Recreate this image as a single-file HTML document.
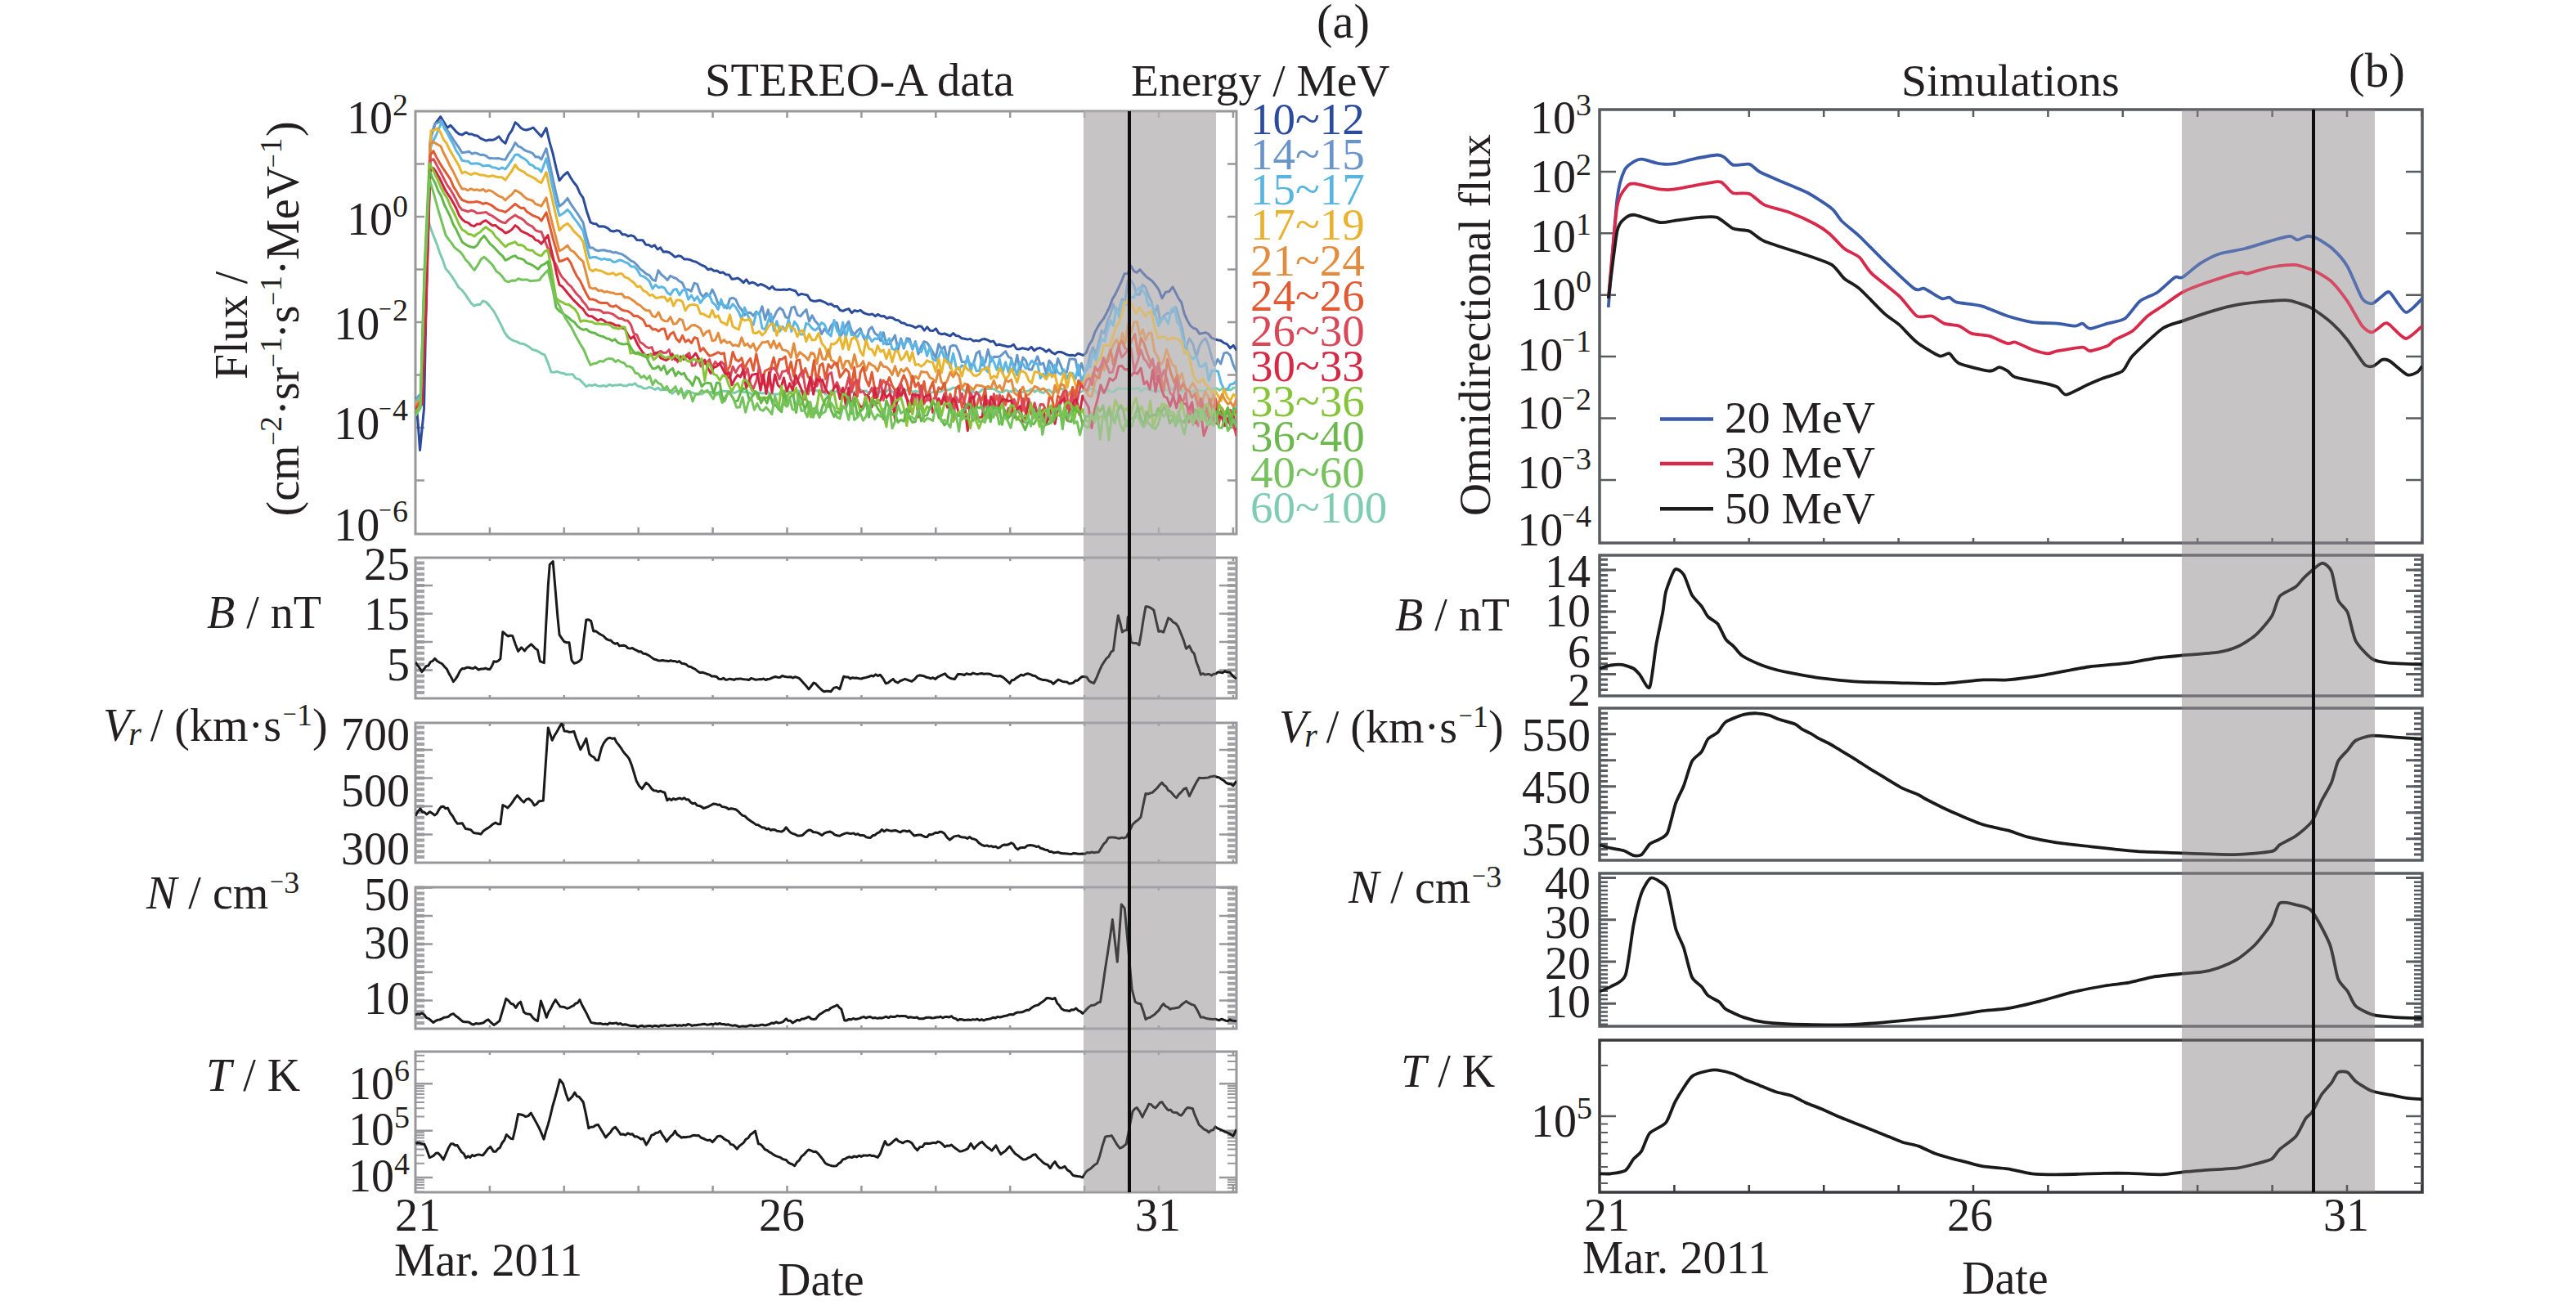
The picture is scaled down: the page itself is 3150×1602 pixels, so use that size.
<!DOCTYPE html><html><head><meta charset="utf-8"><style>html,body{margin:0;padding:0;background:#fff;overflow:hidden}svg{display:block}</style></head><body>
<svg width="3150" height="1602" viewBox="0 0 3150 1602">
<rect x="0" y="0" width="3150" height="1602" fill="#fff"/>
<rect x="1325" y="136" width="162" height="1322" fill="#c7c5c6"/>
<rect x="2668" y="134" width="236" height="1324" fill="#c7c5c6"/>
<rect x="508.0" y="136.0" width="1004.0" height="517.0" fill="none" stroke="#98989b" stroke-width="3.0"/>
<path d="M598.9 136.0V144.0M598.9 653.0V645.0M689.8 136.0V144.0M689.8 653.0V645.0M780.7 136.0V144.0M780.7 653.0V645.0M871.6 136.0V144.0M871.6 653.0V645.0M962.5 136.0V144.0M962.5 653.0V645.0M1053.4 136.0V144.0M1053.4 653.0V645.0M1144.3 136.0V144.0M1144.3 653.0V645.0M1235.2 136.0V144.0M1235.2 653.0V645.0M1326.1 136.0V144.0M1326.1 653.0V645.0M1417.0 136.0V144.0M1417.0 653.0V645.0M1507.9 136.0V144.0M1507.9 653.0V645.0" stroke="#98989b" stroke-width="2.5" fill="none"/>
<rect x="508.0" y="682.0" width="1004.0" height="172.0" fill="none" stroke="#98989b" stroke-width="3.0"/>
<path d="M598.9 682.0V686.0M598.9 854.0V850.0M689.8 682.0V686.0M689.8 854.0V850.0M780.7 682.0V686.0M780.7 854.0V850.0M871.6 682.0V686.0M871.6 854.0V850.0M962.5 682.0V686.0M962.5 854.0V850.0M1053.4 682.0V686.0M1053.4 854.0V850.0M1144.3 682.0V686.0M1144.3 854.0V850.0M1235.2 682.0V686.0M1235.2 854.0V850.0M1326.1 682.0V686.0M1326.1 854.0V850.0M1417.0 682.0V686.0M1417.0 854.0V850.0M1507.9 682.0V686.0M1507.9 854.0V850.0" stroke="#98989b" stroke-width="2.5" fill="none"/>
<rect x="508.0" y="884.0" width="1004.0" height="171.0" fill="none" stroke="#98989b" stroke-width="3.0"/>
<path d="M598.9 884.0V888.0M598.9 1055.0V1051.0M689.8 884.0V888.0M689.8 1055.0V1051.0M780.7 884.0V888.0M780.7 1055.0V1051.0M871.6 884.0V888.0M871.6 1055.0V1051.0M962.5 884.0V888.0M962.5 1055.0V1051.0M1053.4 884.0V888.0M1053.4 1055.0V1051.0M1144.3 884.0V888.0M1144.3 1055.0V1051.0M1235.2 884.0V888.0M1235.2 1055.0V1051.0M1326.1 884.0V888.0M1326.1 1055.0V1051.0M1417.0 884.0V888.0M1417.0 1055.0V1051.0M1507.9 884.0V888.0M1507.9 1055.0V1051.0" stroke="#98989b" stroke-width="2.5" fill="none"/>
<rect x="508.0" y="1085.0" width="1004.0" height="173.0" fill="none" stroke="#98989b" stroke-width="3.0"/>
<path d="M598.9 1085.0V1089.0M598.9 1258.0V1254.0M689.8 1085.0V1089.0M689.8 1258.0V1254.0M780.7 1085.0V1089.0M780.7 1258.0V1254.0M871.6 1085.0V1089.0M871.6 1258.0V1254.0M962.5 1085.0V1089.0M962.5 1258.0V1254.0M1053.4 1085.0V1089.0M1053.4 1258.0V1254.0M1144.3 1085.0V1089.0M1144.3 1258.0V1254.0M1235.2 1085.0V1089.0M1235.2 1258.0V1254.0M1326.1 1085.0V1089.0M1326.1 1258.0V1254.0M1417.0 1085.0V1089.0M1417.0 1258.0V1254.0M1507.9 1085.0V1089.0M1507.9 1258.0V1254.0" stroke="#98989b" stroke-width="2.5" fill="none"/>
<rect x="508.0" y="1286.0" width="1004.0" height="172.0" fill="none" stroke="#98989b" stroke-width="3.0"/>
<path d="M598.9 1286.0V1290.0M598.9 1458.0V1450.0M689.8 1286.0V1290.0M689.8 1458.0V1450.0M780.7 1286.0V1290.0M780.7 1458.0V1450.0M871.6 1286.0V1290.0M871.6 1458.0V1450.0M962.5 1286.0V1290.0M962.5 1458.0V1450.0M1053.4 1286.0V1290.0M1053.4 1458.0V1450.0M1144.3 1286.0V1290.0M1144.3 1458.0V1450.0M1235.2 1286.0V1290.0M1235.2 1458.0V1450.0M1326.1 1286.0V1290.0M1326.1 1458.0V1450.0M1417.0 1286.0V1290.0M1417.0 1458.0V1450.0M1507.9 1286.0V1290.0M1507.9 1458.0V1450.0" stroke="#98989b" stroke-width="2.5" fill="none"/>
<path d="M508.0 200.5H519.0M1512.0 200.5H1501.0M508.0 265.0H519.0M1512.0 265.0H1501.0M508.0 329.5H519.0M1512.0 329.5H1501.0M508.0 394.0H519.0M1512.0 394.0H1501.0M508.0 458.5H519.0M1512.0 458.5H1501.0M508.0 523.0H519.0M1512.0 523.0H1501.0M508.0 587.5H519.0M1512.0 587.5H1501.0" stroke="#98989b" stroke-width="2.5" fill="none"/>
<path d="M508.0 847.1H519.0M1512.0 847.1H1501.0M508.0 840.2H519.0M1512.0 840.2H1501.0M508.0 833.3H519.0M1512.0 833.3H1501.0M508.0 826.4H519.0M1512.0 826.4H1501.0M508.0 819.5H519.0M1512.0 819.5H1501.0M508.0 812.6H519.0M1512.0 812.6H1501.0M508.0 805.7H519.0M1512.0 805.7H1501.0M508.0 798.8H519.0M1512.0 798.8H1501.0M508.0 791.9H519.0M1512.0 791.9H1501.0M508.0 785.0H519.0M1512.0 785.0H1501.0M508.0 778.1H519.0M1512.0 778.1H1501.0M508.0 771.2H519.0M1512.0 771.2H1501.0M508.0 764.3H519.0M1512.0 764.3H1501.0M508.0 757.4H519.0M1512.0 757.4H1501.0M508.0 750.5H519.0M1512.0 750.5H1501.0M508.0 743.6H519.0M1512.0 743.6H1501.0M508.0 736.7H519.0M1512.0 736.7H1501.0M508.0 729.8H519.0M1512.0 729.8H1501.0M508.0 722.9H519.0M1512.0 722.9H1501.0M508.0 716.0H519.0M1512.0 716.0H1501.0M508.0 709.1H519.0M1512.0 709.1H1501.0M508.0 702.2H519.0M1512.0 702.2H1501.0M508.0 695.3H519.0M1512.0 695.3H1501.0M508.0 688.4H519.0M1512.0 688.4H1501.0" stroke="#a3a3a6" stroke-width="4.0" fill="none"/>
<path d="M508.0 819.5H529.0M1512.0 819.5H1491.0M508.0 785.0H529.0M1512.0 785.0H1491.0M508.0 750.5H529.0M1512.0 750.5H1491.0M508.0 716.0H529.0M1512.0 716.0H1491.0" stroke="#98989b" stroke-width="2.5" fill="none"/>
<path d="M508.0 1048.1H519.0M1512.0 1048.1H1501.0M508.0 1041.2H519.0M1512.0 1041.2H1501.0M508.0 1034.3H519.0M1512.0 1034.3H1501.0M508.0 1027.4H519.0M1512.0 1027.4H1501.0M508.0 1020.5H519.0M1512.0 1020.5H1501.0M508.0 1013.6H519.0M1512.0 1013.6H1501.0M508.0 1006.7H519.0M1512.0 1006.7H1501.0M508.0 999.8H519.0M1512.0 999.8H1501.0M508.0 992.9H519.0M1512.0 992.9H1501.0M508.0 986.0H519.0M1512.0 986.0H1501.0M508.0 979.1H519.0M1512.0 979.1H1501.0M508.0 972.2H519.0M1512.0 972.2H1501.0M508.0 965.3H519.0M1512.0 965.3H1501.0M508.0 958.4H519.0M1512.0 958.4H1501.0M508.0 951.5H519.0M1512.0 951.5H1501.0M508.0 944.6H519.0M1512.0 944.6H1501.0M508.0 937.7H519.0M1512.0 937.7H1501.0M508.0 930.8H519.0M1512.0 930.8H1501.0M508.0 923.9H519.0M1512.0 923.9H1501.0M508.0 917.0H519.0M1512.0 917.0H1501.0M508.0 910.1H519.0M1512.0 910.1H1501.0M508.0 903.2H519.0M1512.0 903.2H1501.0M508.0 896.3H519.0M1512.0 896.3H1501.0M508.0 889.4H519.0M1512.0 889.4H1501.0" stroke="#a3a3a6" stroke-width="4.0" fill="none"/>
<path d="M508.0 1020.5H529.0M1512.0 1020.5H1491.0M508.0 986.0H529.0M1512.0 986.0H1491.0M508.0 951.5H529.0M1512.0 951.5H1491.0M508.0 917.0H529.0M1512.0 917.0H1491.0" stroke="#98989b" stroke-width="2.5" fill="none"/>
<path d="M508.0 1251.1H519.0M1512.0 1251.1H1501.0M508.0 1244.2H519.0M1512.0 1244.2H1501.0M508.0 1237.3H519.0M1512.0 1237.3H1501.0M508.0 1230.4H519.0M1512.0 1230.4H1501.0M508.0 1223.5H519.0M1512.0 1223.5H1501.0M508.0 1216.6H519.0M1512.0 1216.6H1501.0M508.0 1209.7H519.0M1512.0 1209.7H1501.0M508.0 1202.8H519.0M1512.0 1202.8H1501.0M508.0 1195.9H519.0M1512.0 1195.9H1501.0M508.0 1189.0H519.0M1512.0 1189.0H1501.0M508.0 1182.1H519.0M1512.0 1182.1H1501.0M508.0 1175.2H519.0M1512.0 1175.2H1501.0M508.0 1168.3H519.0M1512.0 1168.3H1501.0M508.0 1161.4H519.0M1512.0 1161.4H1501.0M508.0 1154.5H519.0M1512.0 1154.5H1501.0M508.0 1147.6H519.0M1512.0 1147.6H1501.0M508.0 1140.7H519.0M1512.0 1140.7H1501.0M508.0 1133.8H519.0M1512.0 1133.8H1501.0M508.0 1126.9H519.0M1512.0 1126.9H1501.0M508.0 1120.0H519.0M1512.0 1120.0H1501.0M508.0 1113.1H519.0M1512.0 1113.1H1501.0M508.0 1106.2H519.0M1512.0 1106.2H1501.0M508.0 1099.3H519.0M1512.0 1099.3H1501.0M508.0 1092.4H519.0M1512.0 1092.4H1501.0M508.0 1085.5H519.0M1512.0 1085.5H1501.0" stroke="#a3a3a6" stroke-width="4.0" fill="none"/>
<path d="M508.0 1223.5H529.0M1512.0 1223.5H1491.0M508.0 1189.0H529.0M1512.0 1189.0H1491.0M508.0 1154.5H529.0M1512.0 1154.5H1491.0M508.0 1120.0H529.0M1512.0 1120.0H1491.0M508.0 1085.5H529.0M1512.0 1085.5H1491.0" stroke="#98989b" stroke-width="2.5" fill="none"/>
<path d="M508.0 1457.4H519.0M1512.0 1457.4H1501.0M508.0 1452.8H519.0M1512.0 1452.8H1501.0M508.0 1449.0H519.0M1512.0 1449.0H1501.0M508.0 1445.7H519.0M1512.0 1445.7H1501.0M508.0 1442.7H519.0M1512.0 1442.7H1501.0M508.0 1422.8H519.0M1512.0 1422.8H1501.0M508.0 1412.7H519.0M1512.0 1412.7H1501.0M508.0 1405.5H519.0M1512.0 1405.5H1501.0M508.0 1400.0H519.0M1512.0 1400.0H1501.0M508.0 1395.4H519.0M1512.0 1395.4H1501.0M508.0 1391.6H519.0M1512.0 1391.6H1501.0M508.0 1388.3H519.0M1512.0 1388.3H1501.0M508.0 1385.3H519.0M1512.0 1385.3H1501.0M508.0 1365.4H519.0M1512.0 1365.4H1501.0M508.0 1355.3H519.0M1512.0 1355.3H1501.0M508.0 1348.1H519.0M1512.0 1348.1H1501.0M508.0 1342.6H519.0M1512.0 1342.6H1501.0M508.0 1338.0H519.0M1512.0 1338.0H1501.0M508.0 1334.2H519.0M1512.0 1334.2H1501.0M508.0 1330.9H519.0M1512.0 1330.9H1501.0M508.0 1327.9H519.0M1512.0 1327.9H1501.0M508.0 1308.0H519.0M1512.0 1308.0H1501.0M508.0 1297.9H519.0M1512.0 1297.9H1501.0M508.0 1290.7H519.0M1512.0 1290.7H1501.0" stroke="#98989b" stroke-width="2.0" fill="none"/>
<path d="M508.0 1440.1H529.0M1512.0 1440.1H1491.0M508.0 1382.7H529.0M1512.0 1382.7H1491.0M508.0 1325.3H529.0M1512.0 1325.3H1491.0" stroke="#98989b" stroke-width="2.5" fill="none"/>
<rect x="1956.0" y="134.0" width="1006.0" height="530.0" fill="none" stroke="#5a5b60" stroke-width="3.5"/>
<path d="M2047.4 134.0V143.0M2047.4 664.0V658.0M2138.8 134.0V143.0M2138.8 664.0V658.0M2230.2 134.0V143.0M2230.2 664.0V658.0M2321.6 134.0V143.0M2321.6 664.0V658.0M2413.0 134.0V143.0M2413.0 664.0V658.0M2504.4 134.0V143.0M2504.4 664.0V658.0M2595.8 134.0V143.0M2595.8 664.0V658.0M2687.2 134.0V143.0M2687.2 664.0V658.0M2778.6 134.0V143.0M2778.6 664.0V658.0M2870.0 134.0V143.0M2870.0 664.0V658.0M2961.4 134.0V143.0M2961.4 664.0V658.0" stroke="#5a5b60" stroke-width="2.5" fill="none"/>
<rect x="1956.0" y="679.0" width="1006.0" height="172.0" fill="none" stroke="#5a5b60" stroke-width="3.5"/>
<rect x="1956.0" y="866.0" width="1006.0" height="186.0" fill="none" stroke="#5a5b60" stroke-width="3.5"/>
<rect x="1956.0" y="1068.0" width="1006.0" height="187.0" fill="none" stroke="#5a5b60" stroke-width="3.5"/>
<rect x="1956.0" y="1272.0" width="1006.0" height="186.0" fill="none" stroke="#3a3a3c" stroke-width="3.5"/>
<path d="M2047.4 1458.0V1449.0M2138.8 1458.0V1449.0M2230.2 1458.0V1449.0M2321.6 1458.0V1449.0M2413.0 1458.0V1449.0M2504.4 1458.0V1449.0M2595.8 1458.0V1449.0M2687.2 1458.0V1449.0M2778.6 1458.0V1449.0M2870.0 1458.0V1449.0M2961.4 1458.0V1449.0" stroke="#3a3a3c" stroke-width="2.5" fill="none"/>
<path d="M1956.0 209.9H1976.0M2962.0 209.9H2942.0M1956.0 285.3H1976.0M2962.0 285.3H2942.0M1956.0 360.7H1976.0M2962.0 360.7H2942.0M1956.0 436.1H1976.0M2962.0 436.1H2942.0M1956.0 511.5H1976.0M2962.0 511.5H2942.0M1956.0 586.9H1976.0M2962.0 586.9H2942.0" stroke="#5a5b60" stroke-width="2.5" fill="none"/>
<path d="M1956.0 843.6H1966.0M2962.0 843.6H2952.0M1956.0 837.2H1966.0M2962.0 837.2H2952.0M1956.0 830.9H1966.0M2962.0 830.9H2952.0M1956.0 824.5H1966.0M2962.0 824.5H2952.0M1956.0 818.1H1966.0M2962.0 818.1H2952.0M1956.0 811.8H1966.0M2962.0 811.8H2952.0M1956.0 805.4H1966.0M2962.0 805.4H2952.0M1956.0 799.0H1966.0M2962.0 799.0H2952.0M1956.0 792.6H1966.0M2962.0 792.6H2952.0M1956.0 786.2H1966.0M2962.0 786.2H2952.0M1956.0 779.9H1966.0M2962.0 779.9H2952.0M1956.0 773.5H1966.0M2962.0 773.5H2952.0M1956.0 767.1H1966.0M2962.0 767.1H2952.0M1956.0 760.8H1966.0M2962.0 760.8H2952.0M1956.0 754.4H1966.0M2962.0 754.4H2952.0M1956.0 748.0H1966.0M2962.0 748.0H2952.0M1956.0 741.6H1966.0M2962.0 741.6H2952.0M1956.0 735.2H1966.0M2962.0 735.2H2952.0M1956.0 728.9H1966.0M2962.0 728.9H2952.0M1956.0 722.5H1966.0M2962.0 722.5H2952.0M1956.0 716.1H1966.0M2962.0 716.1H2952.0M1956.0 709.8H1966.0M2962.0 709.8H2952.0M1956.0 703.4H1966.0M2962.0 703.4H2952.0M1956.0 697.0H1966.0M2962.0 697.0H2952.0M1956.0 690.6H1966.0M2962.0 690.6H2952.0M1956.0 684.2H1966.0M2962.0 684.2H2952.0" stroke="#5a5b60" stroke-width="3.0" fill="none"/>
<path d="M1956.0 697.0H1976.0M2962.0 697.0H2942.0M1956.0 722.5H1976.0M2962.0 722.5H2942.0M1956.0 748.0H1976.0M2962.0 748.0H2942.0M1956.0 773.5H1976.0M2962.0 773.5H2942.0M1956.0 799.0H1976.0M2962.0 799.0H2942.0M1956.0 824.5H1976.0M2962.0 824.5H2942.0" stroke="#5a5b60" stroke-width="3.0" fill="none"/>
<path d="M1956.0 872.2H1966.0M2962.0 872.2H2952.0M1956.0 878.6H1966.0M2962.0 878.6H2952.0M1956.0 885.0H1966.0M2962.0 885.0H2952.0M1956.0 891.4H1966.0M2962.0 891.4H2952.0M1956.0 897.8H1966.0M2962.0 897.8H2952.0M1956.0 904.2H1966.0M2962.0 904.2H2952.0M1956.0 910.6H1966.0M2962.0 910.6H2952.0M1956.0 917.0H1966.0M2962.0 917.0H2952.0M1956.0 923.4H1966.0M2962.0 923.4H2952.0M1956.0 929.8H1966.0M2962.0 929.8H2952.0M1956.0 936.2H1966.0M2962.0 936.2H2952.0M1956.0 942.6H1966.0M2962.0 942.6H2952.0M1956.0 949.0H1966.0M2962.0 949.0H2952.0M1956.0 955.4H1966.0M2962.0 955.4H2952.0M1956.0 961.8H1966.0M2962.0 961.8H2952.0M1956.0 968.2H1966.0M2962.0 968.2H2952.0M1956.0 974.6H1966.0M2962.0 974.6H2952.0M1956.0 981.0H1966.0M2962.0 981.0H2952.0M1956.0 987.4H1966.0M2962.0 987.4H2952.0M1956.0 993.8H1966.0M2962.0 993.8H2952.0M1956.0 1000.2H1966.0M2962.0 1000.2H2952.0M1956.0 1006.6H1966.0M2962.0 1006.6H2952.0M1956.0 1013.0H1966.0M2962.0 1013.0H2952.0M1956.0 1019.4H1966.0M2962.0 1019.4H2952.0M1956.0 1025.8H1966.0M2962.0 1025.8H2952.0M1956.0 1032.2H1966.0M2962.0 1032.2H2952.0M1956.0 1038.6H1966.0M2962.0 1038.6H2952.0M1956.0 1045.0H1966.0M2962.0 1045.0H2952.0" stroke="#5a5b60" stroke-width="3.0" fill="none"/>
<path d="M1956.0 897.8H1976.0M2962.0 897.8H2942.0M1956.0 929.8H1976.0M2962.0 929.8H2942.0M1956.0 961.8H1976.0M2962.0 961.8H2942.0M1956.0 993.8H1976.0M2962.0 993.8H2942.0M1956.0 1025.8H1976.0M2962.0 1025.8H2942.0" stroke="#5a5b60" stroke-width="3.0" fill="none"/>
<path d="M1956.0 1073.6H1966.0M2962.0 1073.6H2952.0M1956.0 1078.7H1966.0M2962.0 1078.7H2952.0M1956.0 1083.8H1966.0M2962.0 1083.8H2952.0M1956.0 1089.0H1966.0M2962.0 1089.0H2952.0M1956.0 1094.1H1966.0M2962.0 1094.1H2952.0M1956.0 1099.2H1966.0M2962.0 1099.2H2952.0M1956.0 1104.3H1966.0M2962.0 1104.3H2952.0M1956.0 1109.4H1966.0M2962.0 1109.4H2952.0M1956.0 1114.6H1966.0M2962.0 1114.6H2952.0M1956.0 1119.7H1966.0M2962.0 1119.7H2952.0M1956.0 1124.8H1966.0M2962.0 1124.8H2952.0M1956.0 1129.9H1966.0M2962.0 1129.9H2952.0M1956.0 1135.0H1966.0M2962.0 1135.0H2952.0M1956.0 1140.2H1966.0M2962.0 1140.2H2952.0M1956.0 1145.3H1966.0M2962.0 1145.3H2952.0M1956.0 1150.4H1966.0M2962.0 1150.4H2952.0M1956.0 1155.5H1966.0M2962.0 1155.5H2952.0M1956.0 1160.6H1966.0M2962.0 1160.6H2952.0M1956.0 1165.8H1966.0M2962.0 1165.8H2952.0M1956.0 1170.9H1966.0M2962.0 1170.9H2952.0M1956.0 1176.0H1966.0M2962.0 1176.0H2952.0M1956.0 1181.1H1966.0M2962.0 1181.1H2952.0M1956.0 1186.2H1966.0M2962.0 1186.2H2952.0M1956.0 1191.4H1966.0M2962.0 1191.4H2952.0M1956.0 1196.5H1966.0M2962.0 1196.5H2952.0M1956.0 1201.6H1966.0M2962.0 1201.6H2952.0M1956.0 1206.7H1966.0M2962.0 1206.7H2952.0M1956.0 1211.8H1966.0M2962.0 1211.8H2952.0M1956.0 1217.0H1966.0M2962.0 1217.0H2952.0M1956.0 1222.1H1966.0M2962.0 1222.1H2952.0M1956.0 1227.2H1966.0M2962.0 1227.2H2952.0M1956.0 1232.3H1966.0M2962.0 1232.3H2952.0M1956.0 1237.4H1966.0M2962.0 1237.4H2952.0M1956.0 1242.6H1966.0M2962.0 1242.6H2952.0M1956.0 1247.7H1966.0M2962.0 1247.7H2952.0M1956.0 1252.8H1966.0M2962.0 1252.8H2952.0" stroke="#5a5b60" stroke-width="2.5" fill="none"/>
<path d="M1956.0 1073.6H1976.0M2962.0 1073.6H2942.0M1956.0 1124.8H1976.0M2962.0 1124.8H2942.0M1956.0 1176.0H1976.0M2962.0 1176.0H2942.0M1956.0 1227.2H1976.0M2962.0 1227.2H2942.0" stroke="#5a5b60" stroke-width="3.0" fill="none"/>
<path d="M1956.0 1447.0H1966.0M2962.0 1447.0H2952.0M1956.0 1427.0H1966.0M2962.0 1427.0H2952.0M1956.0 1410.7H1966.0M2962.0 1410.7H2952.0M1956.0 1396.9H1966.0M2962.0 1396.9H2952.0M1956.0 1385.0H1966.0M2962.0 1385.0H2952.0M1956.0 1374.4H1966.0M2962.0 1374.4H2952.0M1956.0 1303.0H1966.0M2962.0 1303.0H2952.0" stroke="#5a5b60" stroke-width="2.0" fill="none"/>
<path d="M1956.0 1365.0H1976.0M2962.0 1365.0H2942.0" stroke="#5a5b60" stroke-width="2.5" fill="none"/>
<defs>
<clipPath id="cl0"><rect x="508" y="136" width="1004" height="517"/></clipPath>
<clipPath id="cl1"><rect x="508" y="682" width="1004" height="172"/></clipPath>
<clipPath id="cl2"><rect x="508" y="884" width="1004" height="171"/></clipPath>
<clipPath id="cl3"><rect x="508" y="1085" width="1004" height="173"/></clipPath>
<clipPath id="cl4"><rect x="508" y="1286" width="1004" height="172"/></clipPath>
<clipPath id="cr0"><rect x="1956" y="134" width="1006" height="530"/></clipPath>
<clipPath id="cr1"><rect x="1956" y="679" width="1006" height="172"/></clipPath>
<clipPath id="cr2"><rect x="1956" y="866" width="1006" height="186"/></clipPath>
<clipPath id="cr3"><rect x="1956" y="1068" width="1006" height="187"/></clipPath>
<clipPath id="cr4"><rect x="1956" y="1272" width="1006" height="186"/></clipPath>
</defs>
<g clip-path="url(#cl0)" fill="none" stroke-width="3" stroke-linejoin="round">
<path d="M508.0 499.5 L514.0 489.0 L519.0 360.5 L523.6 269.7 L527.2 280.8 L530.7 289.9 L534.3 298.7 L537.9 309.7 L541.4 317.9 L545.0 328.8 L549.0 333.1 L553.0 338.6 L557.0 345.0 L561.0 351.6 L565.0 354.9 L568.8 359.7 L572.5 365.4 L576.2 370.8 L580.0 374.2 L583.5 372.2 L587.0 372.4 L590.5 368.1 L594.0 369.1 L599.0 374.4 L604.0 380.9 L608.2 388.6 L612.5 396.9 L616.8 406.2 L621.0 412.0 L624.8 415.0 L628.5 416.9 L632.2 417.9 L636.0 420.1 L639.8 420.4 L643.5 422.2 L647.2 424.4 L651.0 427.5 L654.8 428.5 L658.5 429.9 L662.2 432.5 L666.0 433.9 L670.0 443.4 L674.0 454.9 L677.7 455.2 L681.4 454.4 L685.1 455.9 L688.9 456.4 L692.6 458.0 L696.3 458.1 L700.0 457.4 L704.2 462.9 L708.5 463.9 L712.8 468.3 L717.0 472.8 L720.5 470.8 L724.0 471.7 L727.5 470.2 L731.0 472.0 L734.5 472.2 L738.0 471.5 L741.5 472.6 L745.0 470.2 L748.5 471.7 L752.0 471.1 L755.5 471.0 L759.0 470.3 L762.5 471.8 L766.0 472.1 L769.5 470.0 L773.0 470.7 L776.5 468.8 L780.0 472.3 L783.5 472.8 L787.0 475.1 L790.5 475.0 L794.0 473.3 L797.5 474.5 L801.0 476.5 L804.5 474.2 L808.0 477.0 L811.5 476.3 L815.0 476.8 L818.5 477.2 L822.0 481.3 L825.6 478.2 L829.3 478.8 L833.0 479.5 L836.6 481.8 L840.2 477.9 L843.9 479.7 L847.5 480.3 L851.2 482.0 L854.9 481.6 L858.5 481.9 L862.1 478.8 L865.8 479.6 L869.5 479.3 L873.1 482.0 L876.8 482.5 L880.4 478.1 L884.0 478.2 L887.7 478.5 L891.4 478.5 L895.0 479.9 L898.6 480.5 L902.1 478.7 L905.7 477.2 L909.3 479.5 L912.9 479.3 L916.4 480.4 L920.0 482.6 L923.6 481.1 L927.1 480.1 L930.7 480.7 L934.3 481.0 L937.9 477.3 L941.4 482.4 L945.0 481.7 L948.6 482.2 L952.1 481.8 L955.7 479.4 L959.3 479.4 L962.9 477.6 L966.4 480.8 L970.0 477.4 L973.6 477.4 L977.1 478.3 L980.7 478.0 L984.3 479.0 L987.9 477.3 L991.4 477.0 L995.0 477.9 L998.6 477.6 L1002.1 479.2 L1005.7 477.2 L1009.3 482.2 L1012.9 480.7 L1016.4 477.9 L1020.0 478.5 L1023.5 479.0 L1027.1 479.0 L1030.7 477.5 L1034.2 481.8 L1037.8 482.6 L1041.3 479.3 L1044.8 479.4 L1048.4 476.9 L1052.0 476.9 L1055.5 478.3 L1059.0 477.8 L1062.6 481.1 L1066.2 477.0 L1069.7 476.1 L1073.2 481.6 L1076.8 479.0 L1080.3 476.6 L1083.9 478.9 L1087.5 475.7 L1091.0 478.7 L1094.5 481.3 L1098.1 480.5 L1101.7 479.5 L1105.2 476.8 L1108.8 477.3 L1112.3 476.1 L1115.8 479.6 L1119.4 478.1 L1123.0 479.5 L1126.5 476.7 L1130.0 476.0 L1133.6 479.5 L1137.2 480.4 L1140.7 479.6 L1144.2 479.2 L1147.8 479.2 L1151.3 478.7 L1154.9 475.5 L1158.5 477.2 L1162.0 476.1 L1165.6 474.2 L1169.1 474.2 L1172.7 475.7 L1176.3 475.6 L1179.8 478.3 L1183.4 479.9 L1187.0 476.8 L1190.5 479.8 L1194.1 480.1 L1197.7 479.9 L1201.2 476.4 L1204.8 475.6 L1208.3 475.6 L1211.9 475.5 L1215.5 475.6 L1219.0 478.1 L1222.6 479.8 L1226.2 479.4 L1229.7 477.3 L1233.3 478.4 L1236.9 479.3 L1240.4 475.0 L1244.0 478.5 L1247.6 480.0 L1251.1 479.2 L1254.7 479.1 L1258.3 477.5 L1261.8 475.7 L1265.4 479.4 L1269.0 476.6 L1272.5 479.5 L1276.1 480.5 L1279.7 477.1 L1283.2 477.1 L1286.8 480.4 L1290.3 479.1 L1293.9 475.8 L1297.5 475.6 L1301.0 475.8 L1304.6 480.3 L1308.2 479.7 L1311.7 475.8 L1315.3 479.9 L1318.9 480.8 L1322.4 478.9 L1326.0 477.1 L1329.7 478.2 L1333.3 475.6 L1337.0 474.8 L1340.6 480.4 L1344.2 478.4 L1347.9 477.6 L1351.5 479.9 L1355.2 476.8 L1358.8 479.3 L1362.5 479.0 L1366.2 475.2 L1369.8 475.3 L1373.5 475.5 L1377.1 475.0 L1380.8 477.0 L1384.4 475.0 L1388.0 475.8 L1391.7 474.0 L1395.3 478.6 L1399.0 475.1 L1402.6 475.9 L1406.1 476.7 L1409.7 478.8 L1413.2 476.0 L1416.8 479.1 L1420.3 476.7 L1423.9 477.0 L1427.4 477.0 L1431.0 474.1 L1434.6 476.8 L1438.1 475.3 L1441.7 474.4 L1445.2 479.2 L1448.8 475.6 L1452.3 477.5 L1455.9 479.1 L1459.4 478.2 L1463.0 477.0 L1466.5 477.8 L1470.0 477.8 L1473.5 478.8 L1477.0 474.5 L1480.5 476.9 L1484.0 474.8 L1487.5 474.7 L1491.0 477.3 L1494.5 475.5 L1498.0 475.5 L1501.5 476.4 L1505.0 477.0 L1508.5 473.9 L1512.0 474.7" stroke="#7ccbb0"/>
<path d="M508.0 486.0 L511.0 515.0 L513.5 550.6 L518.5 499.9 L522.0 330.1 L527.0 166.9 L532.0 151.3 L538.7 142.6 L542.9 149.6 L547.0 156.3 L551.0 153.3 L554.5 157.2 L558.0 161.3 L561.5 164.0 L565.0 164.9 L570.0 161.9 L573.5 164.0 L577.0 164.0 L580.5 165.6 L584.0 166.2 L587.5 169.1 L591.0 170.6 L594.5 172.1 L598.0 171.0 L602.0 171.3 L606.0 169.8 L610.0 166.9 L614.0 172.1 L618.0 175.4 L622.0 165.2 L626.0 159.4 L630.0 149.7 L633.5 152.5 L637.0 156.5 L640.5 158.5 L644.0 159.0 L648.0 157.8 L652.0 156.0 L657.0 161.5 L662.0 167.1 L668.0 156.5 L672.0 173.7 L676.0 187.6 L680.0 205.2 L684.0 220.8 L689.0 214.6 L694.0 210.5 L697.8 217.4 L701.6 223.0 L705.4 227.7 L709.2 236.5 L713.0 241.9 L717.5 258.4 L722.0 271.8 L725.5 273.4 L729.1 273.8 L732.6 277.1 L736.2 276.7 L739.7 277.3 L743.3 279.2 L746.8 282.3 L750.4 283.0 L753.9 281.8 L757.5 282.4 L761.0 286.8 L764.6 286.8 L768.2 288.9 L771.8 287.8 L775.4 289.2 L778.9 293.5 L782.5 293.8 L786.1 293.8 L789.7 299.2 L793.3 299.4 L796.9 301.7 L800.5 299.9 L804.1 305.0 L807.6 302.9 L811.2 308.1 L814.8 307.7 L818.4 308.7 L822.0 311.3 L825.6 314.5 L829.3 312.8 L833.0 313.5 L836.6 316.9 L840.2 316.9 L843.9 317.7 L847.5 319.4 L851.2 320.3 L854.9 322.5 L858.5 324.5 L862.1 325.9 L865.8 329.8 L869.5 328.7 L873.1 331.3 L876.8 331.0 L880.4 333.4 L884.0 333.0 L887.7 335.7 L891.4 335.9 L895.0 341.3 L898.5 341.1 L902.0 339.9 L905.6 342.3 L909.1 345.7 L912.6 341.8 L916.1 346.7 L919.7 345.3 L923.2 346.4 L926.7 349.2 L930.2 347.5 L933.8 348.9 L937.3 350.8 L940.8 353.4 L944.3 350.4 L947.9 354.1 L951.4 354.2 L954.9 354.6 L958.4 354.0 L962.0 354.5 L965.5 353.5 L969.0 354.8 L972.6 355.7 L976.3 361.0 L979.9 359.4 L983.6 360.1 L987.2 360.9 L990.9 366.8 L994.5 368.2 L998.1 368.3 L1001.8 367.3 L1005.4 368.3 L1009.1 369.9 L1012.7 372.2 L1016.4 371.7 L1020.0 374.7 L1023.6 374.4 L1027.2 379.4 L1030.8 380.3 L1034.4 378.6 L1037.9 377.6 L1041.5 382.7 L1045.1 379.6 L1048.7 380.7 L1052.3 379.4 L1055.9 382.5 L1059.5 383.9 L1063.1 384.9 L1066.6 383.9 L1070.2 386.6 L1073.8 384.4 L1077.4 386.8 L1081.0 386.5 L1084.5 389.3 L1088.0 388.0 L1091.6 388.7 L1095.1 391.3 L1098.6 391.7 L1102.1 394.7 L1105.7 395.3 L1109.2 397.5 L1112.7 397.8 L1116.2 399.0 L1119.7 400.8 L1123.3 398.8 L1126.8 399.3 L1130.3 404.1 L1133.8 399.9 L1137.3 404.3 L1140.9 404.6 L1144.4 401.9 L1147.9 407.5 L1151.4 408.7 L1155.0 408.0 L1158.5 409.5 L1162.0 410.9 L1165.5 407.5 L1169.0 410.5 L1172.6 411.1 L1176.1 413.8 L1179.6 414.3 L1183.1 415.1 L1186.7 414.4 L1190.2 416.9 L1193.7 416.4 L1197.2 417.1 L1200.7 415.0 L1204.3 414.5 L1207.8 415.8 L1211.3 417.9 L1214.8 417.1 L1218.3 422.1 L1221.9 421.2 L1225.4 422.3 L1228.9 423.0 L1232.4 424.0 L1236.0 423.5 L1239.5 421.3 L1243.0 426.8 L1246.6 426.9 L1250.2 425.8 L1253.8 426.4 L1257.5 427.5 L1261.1 424.3 L1264.7 428.7 L1268.3 426.2 L1271.9 425.5 L1275.5 427.1 L1279.2 430.2 L1282.8 427.5 L1286.4 431.1 L1290.0 432.9 L1293.5 430.6 L1297.0 430.5 L1300.5 431.7 L1304.0 433.5 L1307.5 434.6 L1311.0 434.3 L1314.5 435.1 L1318.0 432.3 L1321.5 433.3 L1325.0 434.5 L1328.5 430.7 L1332.0 421.3 L1335.5 416.2 L1339.0 406.1 L1342.5 399.6 L1346.0 394.1 L1349.5 389.8 L1353.0 383.2 L1356.7 375.6 L1360.3 365.7 L1364.0 359.6 L1367.7 351.8 L1371.3 344.3 L1375.0 334.7 L1379.0 334.4 L1383.0 325.2 L1386.7 331.7 L1390.3 333.3 L1394.0 329.6 L1397.7 334.1 L1401.3 338.1 L1405.0 340.8 L1409.0 343.7 L1413.0 348.6 L1417.0 354.3 L1421.0 364.7 L1425.3 357.3 L1429.7 356.5 L1434.0 350.9 L1437.5 357.6 L1441.0 364.7 L1444.7 369.8 L1448.3 383.9 L1452.0 392.1 L1455.7 398.3 L1459.3 401.2 L1463.0 402.4 L1466.7 408.2 L1470.4 407.6 L1474.1 406.7 L1477.9 408.5 L1481.6 413.2 L1485.3 414.8 L1489.0 415.8 L1492.8 416.5 L1496.7 419.4 L1500.5 420.9 L1504.3 425.7 L1508.2 422.3 L1512.0 428.5" stroke="#2b4c9b"/>
<path d="M508.0 491.0 L512.0 483.9 L516.0 481.3 L521.0 330.6 L526.0 171.2 L532.0 151.4 L536.0 149.6 L540.0 147.7 L543.6 155.2 L547.1 159.7 L550.7 164.7 L554.3 170.6 L557.9 175.9 L561.4 180.9 L565.0 186.8 L570.0 186.0 L573.5 185.2 L577.0 188.1 L580.5 186.9 L584.0 187.8 L587.5 189.4 L591.0 189.3 L594.5 190.7 L598.0 193.4 L602.0 193.6 L606.0 193.7 L610.0 193.6 L614.0 194.8 L618.0 195.3 L622.0 188.1 L626.0 182.7 L630.0 174.6 L633.6 178.8 L637.1 180.1 L640.7 183.1 L644.2 184.9 L647.8 185.9 L651.3 187.3 L654.9 192.1 L658.4 191.8 L662.0 194.9 L668.0 181.5 L672.0 199.1 L676.0 218.2 L680.0 236.7 L684.0 252.3 L689.0 248.5 L694.0 242.4 L697.8 249.2 L701.6 254.7 L705.4 260.0 L709.2 266.0 L713.0 272.1 L717.0 289.2 L721.0 303.0 L724.6 302.9 L728.2 305.8 L731.8 306.8 L735.5 305.9 L739.1 305.8 L742.7 307.0 L746.3 307.3 L749.9 309.0 L753.5 308.6 L757.2 310.0 L760.8 310.9 L764.4 313.3 L768.0 316.0 L771.8 319.1 L775.5 320.7 L779.2 324.5 L783.0 329.1 L786.8 331.8 L790.5 335.2 L794.2 336.6 L798.0 342.1 L801.5 343.4 L805.0 330.6 L808.7 335.8 L812.3 338.6 L816.0 342.6 L819.7 337.3 L823.3 339.3 L827.0 340.5 L830.7 343.8 L834.3 345.9 L838.0 353.8 L841.7 354.1 L845.3 356.1 L849.0 346.2 L852.7 347.7 L856.3 358.8 L860.0 363.2 L863.7 358.5 L867.3 361.8 L871.0 354.1 L874.6 361.6 L878.2 371.7 L881.8 371.5 L885.4 373.4 L888.9 376.9 L892.5 365.5 L896.1 364.2 L899.7 366.3 L903.3 374.4 L906.9 378.8 L910.5 385.3 L914.1 382.4 L917.6 382.3 L921.2 386.1 L924.8 381.1 L928.4 384.5 L932.0 374.7 L935.6 391.0 L939.2 378.8 L942.8 394.2 L946.4 388.1 L950.0 380.4 L953.6 376.5 L957.2 379.2 L960.8 387.9 L964.4 389.2 L968.0 376.1 L971.6 375.2 L975.2 385.3 L978.8 386.7 L982.4 382.3 L986.0 378.6 L989.5 393.1 L993.0 385.8 L996.9 392.8 L1000.7 396.8 L1004.6 408.4 L1008.4 401.8 L1012.3 407.5 L1016.1 398.8 L1020.0 393.9 L1023.5 394.9 L1027.1 411.7 L1030.7 406.8 L1034.2 398.7 L1037.8 393.1 L1041.3 404.6 L1044.8 409.3 L1048.4 404.4 L1052.0 401.6 L1055.5 411.5 L1059.0 418.1 L1062.6 403.3 L1066.2 399.8 L1069.7 407.4 L1073.2 410.0 L1076.8 416.7 L1080.3 406.6 L1083.9 420.9 L1087.5 420.4 L1091.0 415.9 L1094.5 410.0 L1098.1 427.9 L1101.7 414.0 L1105.2 426.2 L1108.8 413.8 L1112.3 414.4 L1115.8 427.2 L1119.4 417.6 L1123.0 433.1 L1126.5 423.7 L1130.0 417.6 L1133.6 419.2 L1137.2 424.3 L1140.7 430.7 L1144.2 437.9 L1147.8 420.7 L1151.3 427.0 L1154.9 423.8 L1158.5 441.6 L1162.0 423.8 L1165.6 422.2 L1169.1 422.9 L1172.7 430.8 L1176.2 442.6 L1179.8 442.8 L1183.3 439.8 L1186.9 446.3 L1190.4 445.2 L1194.0 432.2 L1197.6 429.5 L1201.1 446.8 L1204.7 443.0 L1208.2 427.5 L1211.8 442.1 L1215.3 436.2 L1218.9 436.5 L1222.4 436.1 L1226.0 432.9 L1229.6 429.6 L1233.1 436.3 L1236.7 438.4 L1240.2 452.4 L1243.8 434.2 L1247.3 453.5 L1250.9 437.1 L1254.4 440.9 L1258.0 451.8 L1261.6 452.2 L1265.1 444.0 L1268.7 435.9 L1272.2 445.8 L1275.8 444.1 L1279.3 456.8 L1282.9 441.0 L1286.4 445.3 L1290.0 457.7 L1293.6 438.4 L1297.2 447.0 L1300.8 456.1 L1304.4 455.2 L1308.0 439.0 L1311.6 439.0 L1315.2 439.7 L1318.8 459.0 L1322.4 444.3 L1326.0 455.3 L1329.5 452.0 L1333.1 432.8 L1336.6 424.6 L1340.2 433.3 L1343.7 419.0 L1347.2 404.3 L1350.8 407.8 L1354.3 392.2 L1357.8 384.5 L1361.4 371.8 L1364.9 381.9 L1368.5 378.8 L1372.0 365.8 L1375.7 368.1 L1379.3 342.8 L1383.0 342.8 L1386.5 348.7 L1390.0 360.0 L1393.5 360.5 L1397.0 348.3 L1400.7 351.2 L1404.3 361.2 L1408.0 368.7 L1411.7 384.4 L1415.3 373.7 L1419.0 393.6 L1423.0 386.6 L1427.0 383.0 L1430.7 383.2 L1434.3 380.9 L1438.0 375.9 L1442.0 389.1 L1446.0 403.4 L1450.0 426.1 L1454.3 414.0 L1458.7 420.4 L1463.0 436.5 L1466.8 422.9 L1470.5 416.6 L1474.2 413.6 L1478.0 423.0 L1482.0 437.9 L1485.5 447.1 L1489.0 439.4 L1492.8 444.9 L1496.7 431.9 L1500.5 431.0 L1504.3 434.4 L1508.2 446.6 L1512.0 454.5" stroke="#6595c9"/>
<path d="M508.0 491.8 L512.0 486.2 L516.0 481.8 L521.0 330.4 L526.0 180.5 L529.5 173.2 L533.0 166.0 L536.5 158.0 L540.0 148.9 L543.6 157.7 L547.1 162.8 L550.7 170.3 L554.3 176.5 L557.9 184.3 L561.4 189.4 L565.0 196.2 L568.7 196.9 L572.3 197.3 L576.0 200.2 L579.7 199.9 L583.3 199.8 L587.0 200.7 L590.7 203.1 L594.3 202.4 L598.0 202.2 L602.0 204.7 L606.0 205.1 L610.0 206.9 L614.0 205.0 L618.0 206.9 L622.0 201.6 L626.0 195.4 L630.0 189.2 L633.6 189.0 L637.1 192.0 L640.7 193.9 L644.2 196.4 L647.8 201.1 L651.3 202.2 L654.9 205.6 L658.4 206.3 L662.0 210.1 L668.0 193.8 L672.0 211.0 L676.0 230.3 L680.0 248.6 L684.0 263.8 L689.0 260.8 L694.0 256.4 L697.8 260.6 L701.6 266.4 L705.4 271.1 L709.2 276.7 L713.0 282.3 L717.0 299.3 L721.0 315.5 L724.6 314.6 L728.2 314.5 L731.8 315.9 L735.5 317.4 L739.1 316.4 L742.7 317.6 L746.3 317.6 L749.9 320.4 L753.5 319.9 L757.2 318.1 L760.8 318.7 L764.4 320.7 L768.0 322.0 L771.8 326.0 L775.5 325.9 L779.2 329.7 L783.0 336.8 L786.8 338.1 L790.5 340.5 L794.2 344.1 L798.0 353.1 L801.6 348.4 L805.3 351.7 L809.0 350.7 L812.6 352.2 L816.2 357.9 L819.9 360.5 L823.5 354.5 L827.2 353.5 L830.9 360.8 L834.5 355.4 L838.1 353.8 L841.8 366.2 L845.5 361.0 L849.1 367.4 L852.8 362.7 L856.4 370.5 L860.0 365.4 L863.7 361.9 L867.4 360.5 L871.0 369.8 L874.6 372.6 L878.2 378.4 L881.8 366.1 L885.4 376.4 L888.9 373.4 L892.5 377.1 L896.1 371.9 L899.7 375.7 L903.3 381.4 L906.9 390.5 L910.5 376.0 L914.1 384.8 L917.6 392.5 L921.2 397.3 L924.8 382.7 L928.4 382.4 L932.0 401.3 L935.6 402.9 L939.2 392.8 L942.8 383.9 L946.4 404.2 L949.9 392.8 L953.5 405.1 L957.1 399.4 L960.7 404.7 L964.3 390.5 L967.9 405.3 L971.5 393.3 L975.1 398.1 L978.6 408.7 L982.2 409.1 L985.8 395.3 L989.4 396.8 L993.0 401.6 L996.9 403.9 L1000.7 400.6 L1004.6 394.5 L1008.4 397.0 L1012.3 407.4 L1016.1 411.0 L1020.0 391.5 L1023.5 404.1 L1027.1 409.5 L1030.7 394.3 L1034.2 413.2 L1037.8 398.0 L1041.3 409.7 L1044.8 409.6 L1048.4 412.2 L1052.0 406.0 L1055.5 409.5 L1059.0 414.1 L1062.6 411.5 L1066.2 417.7 L1069.7 413.9 L1073.2 414.7 L1076.8 406.3 L1080.3 420.6 L1083.9 418.7 L1087.5 413.9 L1091.0 426.7 L1094.5 428.0 L1098.1 421.8 L1101.7 416.5 L1105.2 424.0 L1108.8 416.7 L1112.3 418.2 L1115.8 425.9 L1119.4 419.3 L1123.0 428.1 L1126.5 430.5 L1130.0 421.0 L1133.6 435.3 L1137.2 423.8 L1140.7 439.3 L1144.2 441.3 L1147.8 436.3 L1151.3 427.0 L1154.9 438.0 L1158.5 436.1 L1162.0 449.9 L1165.6 432.1 L1169.1 448.6 L1172.7 452.2 L1176.2 446.7 L1179.8 448.9 L1183.3 435.4 L1186.9 453.5 L1190.4 443.0 L1194.0 453.8 L1197.6 453.3 L1201.1 436.9 L1204.7 451.3 L1208.2 454.9 L1211.8 435.9 L1215.3 442.7 L1218.9 452.2 L1222.4 439.2 L1226.0 456.2 L1229.6 442.7 L1233.1 455.2 L1236.7 440.6 L1240.2 449.0 L1243.8 458.8 L1247.3 443.3 L1250.9 444.9 L1254.4 450.8 L1258.0 447.0 L1261.6 441.1 L1265.1 444.8 L1268.7 444.7 L1272.2 462.5 L1275.8 457.2 L1279.3 462.4 L1282.9 446.5 L1286.4 460.8 L1290.0 446.2 L1293.6 455.5 L1297.2 457.9 L1300.8 451.7 L1304.4 463.2 L1308.0 456.0 L1311.6 456.6 L1315.2 463.4 L1318.8 445.9 L1322.4 465.8 L1326.0 457.7 L1329.5 446.2 L1333.1 449.1 L1336.6 430.9 L1340.1 441.0 L1343.7 425.5 L1347.2 414.5 L1350.7 417.3 L1354.3 403.9 L1357.8 391.8 L1361.3 398.3 L1364.9 376.5 L1368.4 387.6 L1371.9 368.7 L1375.5 371.1 L1379.0 372.6 L1382.7 363.1 L1386.3 364.1 L1390.0 355.6 L1393.6 351.4 L1397.2 355.0 L1400.8 360.3 L1404.4 373.6 L1408.0 372.3 L1412.3 382.1 L1416.7 398.7 L1421.0 389.6 L1424.8 388.9 L1428.5 395.7 L1432.2 378.8 L1436.0 375.7 L1439.5 393.8 L1443.0 398.5 L1446.5 414.4 L1450.0 421.6 L1454.3 434.3 L1458.7 439.1 L1463.0 435.2 L1466.8 448.0 L1470.6 448.0 L1474.4 443.8 L1478.2 465.2 L1482.0 453.1 L1485.8 453.2 L1489.5 454.2 L1493.2 468.6 L1497.0 476.1 L1500.8 476.4 L1504.5 470.1 L1508.2 469.3 L1512.0 465.9" stroke="#5bb6e3"/>
<path d="M508.0 494.4 L512.0 489.7 L516.0 484.6 L521.0 340.4 L527.0 159.8 L531.0 159.3 L535.0 156.7 L538.8 162.1 L542.5 171.0 L546.2 175.3 L550.0 183.6 L553.8 190.1 L557.5 196.5 L561.2 202.8 L565.0 211.8 L568.7 210.0 L572.3 212.0 L576.0 213.7 L579.7 211.7 L583.3 212.3 L587.0 214.0 L590.7 214.1 L594.3 215.0 L598.0 215.9 L602.0 214.8 L606.0 216.0 L610.0 216.8 L614.0 216.8 L618.0 220.2 L622.0 214.5 L626.0 209.0 L630.0 201.5 L633.6 206.5 L637.1 208.6 L640.7 210.2 L644.2 213.5 L647.8 215.1 L651.3 216.8 L654.9 218.9 L658.4 221.8 L662.0 223.6 L668.0 210.5 L672.0 229.2 L676.0 246.6 L680.0 264.5 L684.0 281.6 L689.0 276.3 L694.0 273.2 L697.8 277.2 L701.6 282.7 L705.4 286.3 L709.2 289.9 L713.0 295.4 L717.0 313.9 L721.0 329.2 L724.6 331.6 L728.2 329.5 L731.8 330.8 L735.3 331.2 L738.9 333.2 L742.5 334.9 L746.1 334.9 L749.7 333.8 L753.2 336.7 L756.8 334.8 L760.4 334.8 L764.0 338.8 L767.8 340.1 L771.6 343.2 L775.3 345.8 L779.1 350.7 L782.9 350.0 L786.7 355.4 L790.4 357.1 L794.2 361.2 L798.0 360.5 L801.6 364.2 L805.3 364.1 L809.0 363.0 L812.6 363.2 L816.2 368.5 L819.9 364.2 L823.5 374.1 L827.2 367.1 L830.9 366.9 L834.5 368.9 L838.1 379.8 L841.8 374.0 L845.5 372.7 L849.1 372.4 L852.8 373.6 L856.4 383.5 L860.0 384.0 L863.7 386.1 L867.4 388.0 L871.0 379.4 L874.6 388.2 L878.2 385.8 L881.8 393.9 L885.4 395.1 L888.9 397.4 L892.5 384.9 L896.1 399.3 L899.7 401.3 L903.3 403.0 L906.9 389.2 L910.5 391.9 L914.1 391.1 L917.6 390.6 L921.2 407.1 L924.8 407.5 L928.4 405.1 L932.0 410.0 L935.6 406.5 L939.2 399.8 L942.8 396.2 L946.4 396.4 L949.9 410.4 L953.5 399.2 L957.1 401.9 L960.7 404.4 L964.3 396.3 L967.9 401.5 L971.5 402.3 L975.1 411.6 L978.6 404.7 L982.2 404.0 L985.8 417.7 L989.4 408.4 L993.0 415.9 L997.0 415.5 L1001.0 407.6 L1005.0 420.0 L1009.0 424.9 L1013.0 436.3 L1016.5 420.4 L1020.0 420.9 L1023.5 418.2 L1027.1 412.4 L1030.7 426.7 L1034.2 411.5 L1037.8 427.5 L1041.3 414.8 L1044.8 412.2 L1048.4 417.2 L1052.0 429.7 L1055.5 435.0 L1059.0 415.6 L1062.6 426.6 L1066.2 427.5 L1069.7 434.7 L1073.2 422.8 L1076.8 430.1 L1080.3 427.9 L1083.9 438.8 L1087.5 427.8 L1091.0 442.8 L1094.5 430.0 L1098.1 429.4 L1101.7 440.3 L1105.2 437.0 L1108.8 429.7 L1112.3 441.5 L1115.8 430.8 L1119.4 446.4 L1123.0 445.4 L1126.5 448.1 L1130.0 445.6 L1133.6 440.8 L1137.2 442.6 L1140.7 443.3 L1144.2 454.5 L1147.8 438.6 L1151.3 456.1 L1154.9 439.0 L1158.5 443.6 L1162.0 445.7 L1165.6 459.3 L1169.1 451.4 L1172.7 449.3 L1176.2 460.1 L1179.8 447.0 L1183.3 452.1 L1186.9 454.0 L1190.4 459.0 L1194.0 459.4 L1197.6 457.5 L1201.1 451.7 L1204.7 451.7 L1208.2 448.5 L1211.8 463.2 L1215.3 459.8 L1218.9 461.9 L1222.4 450.3 L1226.0 456.3 L1229.6 463.7 L1233.1 460.0 L1236.7 451.0 L1240.2 458.4 L1243.8 467.6 L1247.3 454.5 L1250.9 453.9 L1254.4 456.6 L1258.0 465.3 L1261.6 468.6 L1265.1 454.7 L1268.7 455.1 L1272.2 457.4 L1275.8 459.4 L1279.3 463.9 L1282.9 456.8 L1286.4 460.6 L1290.0 458.1 L1293.8 474.4 L1297.5 469.2 L1301.2 456.1 L1305.0 473.9 L1308.8 455.9 L1312.5 461.7 L1316.2 474.1 L1320.0 470.1 L1323.8 468.7 L1327.5 462.4 L1331.2 457.4 L1335.0 466.5 L1338.7 447.6 L1342.3 441.8 L1346.0 437.8 L1349.7 422.6 L1353.3 422.3 L1357.0 422.7 L1360.7 412.6 L1364.3 400.6 L1368.0 395.4 L1371.7 383.8 L1375.3 369.1 L1379.0 370.8 L1382.5 368.6 L1386.0 377.6 L1389.7 383.4 L1393.3 375.8 L1397.0 381.1 L1400.7 387.1 L1404.3 382.6 L1408.0 381.0 L1412.0 400.7 L1416.0 413.5 L1420.0 412.3 L1424.0 411.8 L1428.0 415.9 L1432.0 413.3 L1436.0 413.5 L1440.5 415.1 L1445.0 417.7 L1448.6 432.3 L1452.2 429.2 L1455.8 443.9 L1459.4 459.5 L1463.0 466.0 L1466.8 467.7 L1470.6 463.2 L1474.4 470.2 L1478.2 474.3 L1482.0 481.1 L1485.8 477.6 L1489.5 484.0 L1493.2 490.2 L1497.0 475.5 L1500.8 486.2 L1504.5 489.6 L1508.2 482.4 L1512.0 485.4" stroke="#e9b52f"/>
<path d="M508.0 497.4 L512.0 490.6 L516.0 488.1 L521.0 349.0 L526.0 175.8 L529.0 173.3 L534.0 176.1 L539.0 178.8 L542.7 187.5 L546.4 194.7 L550.1 202.5 L553.9 209.2 L557.6 216.8 L561.3 224.7 L565.0 231.1 L568.7 231.0 L572.3 232.8 L576.0 230.8 L579.7 232.4 L583.3 231.8 L587.0 233.1 L590.7 231.4 L594.3 234.2 L598.0 232.6 L602.0 234.1 L606.0 237.1 L610.0 239.9 L614.0 241.1 L618.0 244.8 L622.0 240.8 L626.0 237.6 L630.0 232.6 L633.6 234.5 L637.1 236.6 L640.7 240.4 L644.2 243.2 L647.8 244.2 L651.3 245.5 L654.9 249.5 L658.4 250.5 L662.0 252.1 L668.0 241.9 L672.0 259.8 L676.0 275.9 L680.0 291.4 L684.0 306.9 L689.0 304.2 L694.0 300.2 L697.8 306.0 L701.6 307.8 L705.4 312.2 L709.2 316.4 L713.0 319.9 L717.0 335.4 L721.0 351.4 L724.6 353.0 L728.2 352.5 L731.8 355.5 L735.3 354.9 L738.9 357.2 L742.5 356.6 L746.1 357.8 L749.7 358.2 L753.2 359.7 L756.8 359.4 L760.4 359.3 L764.0 363.8 L767.8 363.7 L771.6 365.7 L775.3 368.2 L779.1 371.6 L782.9 373.5 L786.7 377.2 L790.4 379.7 L794.2 379.7 L798.0 386.6 L801.6 387.5 L805.3 381.9 L809.0 390.2 L812.6 392.5 L816.2 392.8 L819.9 387.7 L823.5 396.3 L827.2 395.6 L830.9 390.1 L834.5 391.3 L838.1 403.7 L841.8 401.6 L845.5 398.0 L849.1 397.4 L852.8 399.2 L856.4 401.7 L860.0 410.5 L863.7 405.9 L867.4 404.4 L871.0 416.8 L874.6 416.0 L878.2 407.2 L881.8 419.2 L885.4 415.6 L888.9 419.2 L892.5 418.1 L896.1 422.7 L899.7 421.8 L903.3 423.5 L906.9 412.9 L910.5 422.5 L914.1 420.4 L917.6 425.1 L921.2 420.1 L924.8 429.5 L928.4 423.9 L932.0 418.8 L935.5 418.7 L939.0 417.3 L942.6 425.3 L946.1 416.8 L949.6 425.9 L953.1 419.8 L956.6 427.6 L960.2 428.4 L963.7 429.8 L967.2 437.1 L970.7 419.9 L974.2 437.9 L977.8 430.7 L981.3 433.3 L984.8 436.0 L988.3 440.3 L991.8 431.2 L995.4 432.7 L998.9 444.6 L1002.4 426.8 L1005.9 439.1 L1009.4 439.6 L1013.0 427.6 L1016.5 440.3 L1020.0 442.4 L1023.5 448.2 L1027.1 436.4 L1030.7 450.6 L1034.2 441.4 L1037.8 441.5 L1041.3 450.8 L1044.8 433.5 L1048.4 448.3 L1052.0 447.1 L1055.5 441.7 L1059.0 453.3 L1062.6 443.6 L1066.2 446.5 L1069.7 448.2 L1073.2 454.0 L1076.8 443.0 L1080.3 448.3 L1083.9 448.7 L1087.5 452.1 L1091.0 458.4 L1094.5 447.9 L1098.1 459.7 L1101.7 451.5 L1105.2 454.3 L1108.8 450.1 L1112.3 455.6 L1115.8 466.0 L1119.4 460.0 L1123.0 463.5 L1126.5 454.6 L1130.0 454.9 L1133.6 455.2 L1137.2 461.8 L1140.7 463.5 L1144.2 467.3 L1147.8 452.4 L1151.3 467.3 L1154.9 471.3 L1158.5 464.9 L1162.0 455.2 L1165.6 460.9 L1169.1 455.2 L1172.7 459.5 L1176.2 475.1 L1179.8 469.1 L1183.3 470.6 L1186.9 473.7 L1190.4 476.7 L1194.0 470.9 L1197.6 471.5 L1201.1 472.1 L1204.7 474.0 L1208.2 472.4 L1211.8 474.6 L1215.3 465.3 L1218.9 475.2 L1222.4 471.3 L1226.0 478.1 L1229.6 464.8 L1233.1 466.9 L1236.7 464.3 L1240.2 480.1 L1243.8 483.4 L1247.3 478.5 L1250.9 473.0 L1254.4 482.9 L1258.0 482.6 L1261.6 478.3 L1265.1 472.5 L1268.7 473.8 L1272.2 476.8 L1275.8 475.0 L1279.3 477.8 L1282.9 482.7 L1286.4 489.2 L1290.0 471.3 L1293.8 481.5 L1297.5 470.0 L1301.2 471.2 L1305.0 485.1 L1308.8 479.7 L1312.5 486.3 L1316.2 476.0 L1320.0 466.5 L1323.8 473.8 L1327.5 477.5 L1331.2 484.2 L1335.0 484.6 L1338.9 467.8 L1342.7 460.2 L1346.6 447.5 L1350.4 452.5 L1354.3 437.2 L1358.1 429.6 L1362.0 420.5 L1365.5 415.1 L1369.0 424.1 L1372.5 407.2 L1376.0 419.6 L1379.5 396.2 L1383.0 407.3 L1386.7 393.9 L1390.3 393.6 L1394.0 410.2 L1397.5 403.0 L1401.0 416.0 L1404.5 407.3 L1408.0 407.2 L1411.7 429.6 L1415.3 435.7 L1419.0 446.0 L1422.7 442.0 L1426.3 427.3 L1430.0 437.3 L1433.7 446.3 L1437.3 448.4 L1441.0 465.6 L1445.3 456.5 L1449.7 476.3 L1454.0 476.1 L1458.5 468.4 L1463.0 475.5 L1466.5 489.4 L1470.0 493.5 L1473.5 478.8 L1477.0 484.2 L1480.5 493.6 L1484.0 482.5 L1487.5 497.6 L1491.0 490.5 L1494.5 482.2 L1498.0 489.3 L1501.5 494.2 L1505.0 492.0 L1508.5 497.6 L1512.0 487.2" stroke="#e38c3e"/>
<path d="M508.0 498.9 L512.0 493.6 L516.0 490.4 L521.0 360.4 L526.0 189.8 L530.0 184.7 L533.5 191.9 L537.0 198.3 L540.5 203.9 L544.0 209.2 L547.5 214.4 L551.0 219.7 L554.5 228.4 L558.0 233.6 L561.5 240.0 L565.0 244.5 L568.7 245.8 L572.3 247.3 L576.0 247.3 L579.7 247.1 L583.3 246.6 L587.0 247.5 L590.7 249.3 L594.3 248.2 L598.0 249.6 L602.0 251.7 L606.0 255.0 L610.0 257.1 L614.0 257.9 L618.0 259.5 L622.0 256.3 L626.0 252.8 L630.0 249.3 L633.6 252.2 L637.1 254.6 L640.7 254.3 L644.2 258.9 L647.8 261.0 L651.3 263.4 L654.9 264.8 L658.4 266.1 L662.0 270.1 L668.0 259.9 L672.0 275.1 L676.0 291.2 L680.0 305.0 L684.0 319.8 L689.0 318.2 L694.0 315.9 L697.9 321.4 L701.7 330.3 L705.6 338.2 L709.4 343.3 L713.3 351.7 L717.1 359.2 L721.0 365.9 L724.6 366.0 L728.2 367.1 L731.8 369.5 L735.3 370.5 L738.9 370.5 L742.5 370.5 L746.1 374.1 L749.7 375.1 L753.2 373.6 L756.8 376.2 L760.4 379.0 L764.0 380.1 L767.8 380.6 L771.6 383.0 L775.3 386.6 L779.1 386.2 L782.9 388.8 L786.7 391.3 L790.4 398.7 L794.2 398.2 L798.0 402.9 L801.6 402.5 L805.3 405.1 L809.0 402.2 L812.6 402.1 L816.2 414.9 L819.9 408.5 L823.5 406.2 L827.2 414.5 L830.9 418.1 L834.5 410.3 L838.1 418.1 L841.8 415.5 L845.5 419.5 L849.1 412.7 L852.8 414.0 L856.4 429.4 L860.0 425.6 L863.7 430.8 L867.4 435.3 L871.0 434.4 L874.6 432.7 L878.2 430.7 L881.8 432.7 L885.4 431.7 L888.9 454.3 L892.5 448.1 L896.1 430.4 L899.7 439.9 L903.3 441.7 L906.9 437.7 L910.5 451.0 L914.1 442.9 L917.6 438.4 L921.2 453.2 L924.8 432.7 L928.4 450.6 L932.0 466.5 L935.5 453.5 L939.0 451.9 L942.6 450.0 L946.1 437.1 L949.6 452.4 L953.1 439.5 L956.6 439.2 L960.2 436.0 L963.7 456.6 L967.2 442.4 L970.7 460.3 L974.2 440.9 L977.8 440.1 L981.3 460.7 L984.8 450.5 L988.3 460.9 L991.8 464.2 L995.4 440.8 L998.9 469.4 L1002.4 447.2 L1005.9 444.6 L1009.4 463.6 L1013.0 445.6 L1016.5 450.1 L1020.0 444.9 L1023.5 444.0 L1027.1 461.3 L1030.7 456.7 L1034.2 451.4 L1037.8 455.0 L1041.3 472.8 L1044.8 449.0 L1048.4 484.6 L1052.0 455.6 L1055.5 448.7 L1059.0 464.2 L1062.6 472.2 L1066.2 455.3 L1069.7 475.7 L1073.2 474.9 L1076.8 473.2 L1080.3 465.1 L1083.9 470.1 L1087.5 461.6 L1091.0 471.5 L1094.5 477.5 L1098.1 474.9 L1101.7 467.9 L1105.2 458.9 L1108.8 467.2 L1112.3 482.2 L1115.8 459.8 L1119.4 473.0 L1123.0 467.9 L1126.5 483.9 L1130.0 466.4 L1133.6 490.0 L1137.2 475.4 L1140.7 467.2 L1144.2 486.8 L1147.8 473.9 L1151.3 476.2 L1154.9 468.2 L1158.5 493.1 L1162.0 481.8 L1165.6 498.4 L1169.1 474.6 L1172.7 471.6 L1176.2 498.3 L1179.8 488.5 L1183.3 470.3 L1186.9 485.8 L1190.4 504.3 L1194.0 497.5 L1197.6 484.6 L1201.1 489.1 L1204.7 475.5 L1208.2 507.3 L1211.8 492.8 L1215.3 495.3 L1218.9 483.7 L1222.4 496.3 L1226.0 484.6 L1229.6 495.3 L1233.1 481.0 L1236.7 486.6 L1240.2 497.0 L1243.8 497.6 L1247.3 477.3 L1250.9 502.2 L1254.4 483.2 L1258.0 494.0 L1261.6 501.9 L1265.1 498.6 L1268.7 504.2 L1272.2 503.6 L1275.8 500.5 L1279.3 515.3 L1282.9 486.4 L1286.4 486.9 L1290.0 504.9 L1293.6 484.3 L1297.2 487.1 L1300.8 480.8 L1304.4 500.3 L1308.0 494.5 L1311.6 473.5 L1315.2 485.7 L1318.8 465.2 L1322.4 470.5 L1326.0 475.2 L1329.6 477.7 L1333.2 468.1 L1336.8 455.8 L1340.4 460.6 L1344.0 462.5 L1347.5 449.6 L1351.0 442.6 L1354.5 442.3 L1358.0 427.6 L1361.5 446.1 L1365.0 433.2 L1368.5 421.2 L1372.0 416.8 L1376.0 426.2 L1380.0 427.3 L1384.0 415.8 L1387.8 408.5 L1391.5 433.4 L1395.2 413.3 L1399.0 420.4 L1403.0 432.8 L1407.0 443.5 L1411.0 446.5 L1415.0 452.3 L1419.0 458.2 L1423.2 477.6 L1427.5 439.4 L1431.8 456.5 L1436.0 468.0 L1439.6 458.8 L1443.2 476.7 L1446.8 468.9 L1450.4 476.7 L1454.0 477.8 L1457.6 486.3 L1461.2 481.3 L1464.9 497.0 L1468.5 487.4 L1472.1 496.7 L1475.8 509.1 L1479.4 488.2 L1483.0 503.6 L1486.6 487.7 L1490.2 514.8 L1493.9 500.3 L1497.5 511.3 L1501.1 502.3 L1504.8 503.1 L1508.4 509.1 L1512.0 501.5" stroke="#e05a33"/>
<path d="M508.0 499.6 L512.0 497.3 L516.0 492.5 L521.0 370.1 L526.0 196.8 L530.0 194.6 L533.5 200.9 L537.0 207.6 L540.5 213.8 L544.0 220.9 L547.5 227.4 L551.0 232.2 L554.5 238.2 L558.0 245.0 L561.5 252.3 L565.0 256.5 L568.7 257.5 L572.3 258.8 L576.0 257.3 L579.7 258.2 L583.3 260.7 L587.0 260.6 L590.7 260.1 L594.3 259.4 L598.0 262.2 L602.0 264.0 L606.0 266.8 L610.0 269.7 L614.0 271.8 L618.0 272.8 L622.0 268.6 L626.0 265.7 L630.0 263.0 L633.6 265.5 L637.1 267.0 L640.7 269.4 L644.2 273.2 L647.8 275.5 L651.3 277.2 L654.9 281.6 L658.4 283.0 L662.0 283.6 L665.7 292.9 L669.3 302.2 L673.0 308.9 L676.7 318.2 L680.3 324.3 L684.0 333.4 L687.6 339.3 L691.2 342.9 L694.8 347.4 L698.4 350.3 L702.0 355.5 L705.6 360.0 L709.2 363.4 L712.8 368.8 L716.4 372.8 L720.0 378.5 L723.7 378.2 L727.3 378.7 L731.0 378.9 L734.7 380.0 L738.3 382.8 L742.0 382.1 L745.7 382.9 L749.3 384.1 L753.0 386.7 L756.7 389.4 L760.3 389.4 L764.0 391.7 L767.7 392.2 L771.4 397.0 L775.1 407.9 L778.9 409.7 L782.6 418.4 L786.3 420.5 L790.0 424.0 L793.5 425.6 L797.0 424.6 L800.6 434.0 L804.1 431.3 L807.6 429.4 L811.1 431.4 L814.7 431.3 L818.2 427.7 L821.7 439.7 L825.2 436.3 L828.7 442.6 L832.3 435.8 L835.8 439.4 L839.3 434.3 L842.8 431.7 L846.3 447.2 L849.9 446.8 L853.4 438.2 L856.9 448.1 L860.4 445.0 L864.0 443.8 L867.5 439.7 L871.0 449.9 L874.6 442.4 L878.2 446.7 L881.8 442.3 L885.4 445.5 L888.9 459.8 L892.5 462.8 L896.1 448.2 L899.7 455.6 L903.3 448.8 L906.9 445.5 L910.5 460.0 L914.1 450.6 L917.6 469.5 L921.2 475.5 L924.8 466.0 L928.4 448.4 L932.0 464.7 L935.5 471.9 L939.0 472.4 L942.6 452.1 L946.1 449.7 L949.6 453.9 L953.1 463.8 L956.6 454.4 L960.2 453.8 L963.7 451.7 L967.2 464.2 L970.7 471.3 L974.2 468.4 L977.8 458.9 L981.3 452.8 L984.8 475.3 L988.3 481.9 L991.8 462.1 L995.4 469.8 L998.9 472.2 L1002.4 461.1 L1005.9 479.6 L1009.4 479.3 L1013.0 458.1 L1016.5 455.6 L1020.0 474.3 L1023.5 467.6 L1027.1 476.3 L1030.7 481.1 L1034.2 475.3 L1037.8 461.0 L1041.3 479.3 L1044.8 467.5 L1048.4 464.9 L1052.0 479.8 L1055.5 478.6 L1059.0 484.9 L1062.6 481.8 L1066.2 474.2 L1069.7 486.6 L1073.2 485.1 L1076.8 464.4 L1080.3 489.6 L1083.9 467.4 L1087.5 470.8 L1091.0 499.7 L1094.5 477.0 L1098.1 490.1 L1101.7 469.3 L1105.2 479.4 L1108.8 487.6 L1112.3 492.1 L1115.8 494.7 L1119.4 481.5 L1123.0 510.0 L1126.5 471.5 L1130.0 493.9 L1133.6 486.9 L1137.2 490.1 L1140.7 489.0 L1144.2 484.6 L1147.8 495.2 L1151.3 493.0 L1154.9 481.2 L1158.5 487.5 L1162.0 485.3 L1165.6 512.6 L1169.1 485.4 L1172.7 491.8 L1176.2 481.2 L1179.8 493.8 L1183.3 498.9 L1186.9 480.4 L1190.4 487.8 L1194.0 479.4 L1197.6 483.7 L1201.1 500.4 L1204.7 492.0 L1208.2 489.8 L1211.8 507.7 L1215.3 481.8 L1218.9 507.9 L1222.4 483.1 L1226.0 492.7 L1229.6 511.3 L1233.1 499.3 L1236.7 508.0 L1240.2 488.6 L1243.8 499.3 L1247.3 506.0 L1250.9 487.5 L1254.4 506.8 L1258.0 487.6 L1261.6 506.9 L1265.1 492.7 L1268.7 507.3 L1272.2 494.4 L1275.8 494.7 L1279.3 502.9 L1282.9 502.7 L1286.4 505.2 L1290.0 512.4 L1293.5 496.6 L1297.0 487.9 L1300.5 478.7 L1304.0 478.1 L1307.5 504.8 L1311.0 480.2 L1314.5 499.8 L1318.0 486.3 L1321.5 471.0 L1325.0 474.8 L1328.5 464.9 L1332.0 462.5 L1335.5 470.7 L1339.0 448.7 L1342.5 453.8 L1346.0 448.1 L1349.5 437.6 L1353.0 445.5 L1356.7 455.8 L1360.4 455.1 L1364.1 442.3 L1367.9 423.6 L1371.6 436.9 L1375.3 433.2 L1379.0 428.0 L1383.0 425.6 L1387.0 453.2 L1391.0 442.1 L1395.0 427.9 L1399.0 438.9 L1402.5 442.7 L1406.0 449.5 L1409.5 439.0 L1413.0 463.8 L1416.5 443.9 L1420.0 461.8 L1423.5 452.9 L1427.0 464.2 L1430.9 480.5 L1434.7 484.7 L1438.6 464.5 L1442.4 491.9 L1446.3 492.4 L1450.1 479.8 L1454.0 516.3 L1457.6 493.7 L1461.2 511.2 L1464.9 520.8 L1468.5 487.6 L1472.1 509.8 L1475.8 494.5 L1479.4 509.9 L1483.0 516.3 L1486.6 517.0 L1490.2 519.5 L1493.9 499.1 L1497.5 505.3 L1501.1 516.2 L1504.8 501.4 L1508.4 520.2 L1512.0 533.0" stroke="#d9485a"/>
<path d="M508.0 500.8 L512.0 498.1 L516.0 494.9 L521.0 378.8 L526.0 209.3 L530.0 205.5 L533.5 210.7 L537.0 216.9 L540.5 224.0 L544.0 231.6 L547.5 237.2 L551.0 242.2 L554.5 248.4 L558.0 255.0 L561.5 263.5 L565.0 268.1 L568.8 271.2 L572.5 272.4 L576.2 275.6 L580.0 276.6 L583.5 273.9 L587.0 274.1 L590.5 271.1 L594.0 269.6 L598.0 272.6 L602.0 275.7 L606.0 275.5 L610.0 279.2 L614.0 281.3 L618.0 285.0 L622.0 283.5 L626.0 280.6 L630.0 275.6 L633.6 278.3 L637.1 282.4 L640.7 284.2 L644.2 285.6 L647.8 288.0 L651.3 289.3 L654.9 293.6 L658.4 294.5 L662.0 298.1 L666.0 293.3 L670.0 287.7 L673.5 303.2 L677.0 317.6 L680.5 334.4 L684.0 348.3 L687.6 350.5 L691.2 354.8 L694.8 359.3 L698.4 363.5 L702.0 367.7 L705.6 371.1 L709.2 374.9 L712.8 377.7 L716.4 383.3 L720.0 386.5 L723.7 386.7 L727.3 389.2 L731.0 392.0 L734.7 390.3 L738.3 391.8 L742.0 395.0 L745.7 394.8 L749.3 395.9 L753.0 398.1 L756.7 398.0 L760.3 401.0 L764.0 402.0 L767.7 409.3 L771.4 414.2 L775.1 411.1 L778.9 419.7 L782.6 426.0 L786.3 431.4 L790.0 435.0 L793.6 434.0 L797.1 434.5 L800.7 431.8 L804.2 431.1 L807.8 437.8 L811.4 439.3 L814.9 440.7 L818.5 437.8 L822.1 432.8 L825.6 439.9 L829.2 440.0 L832.8 436.9 L836.3 439.3 L839.9 435.0 L843.4 438.7 L847.0 436.5 L850.7 432.0 L854.4 438.4 L858.1 443.1 L861.8 440.2 L865.5 450.0 L869.2 456.5 L872.8 449.3 L876.5 448.0 L880.2 444.4 L883.9 451.4 L887.6 458.7 L891.3 455.5 L895.0 470.8 L898.5 463.6 L902.0 458.5 L905.5 460.9 L909.0 452.0 L912.5 474.5 L916.0 465.5 L919.5 458.5 L923.0 457.6 L926.5 457.5 L930.0 477.2 L933.5 458.2 L937.0 481.6 L940.5 455.5 L944.0 480.2 L947.6 458.2 L951.2 470.9 L954.9 474.5 L958.5 462.0 L962.1 478.8 L965.7 468.8 L969.3 477.3 L973.0 458.8 L976.6 468.1 L980.2 476.5 L983.8 488.2 L987.4 476.5 L991.0 461.5 L994.7 482.3 L998.3 463.6 L1001.9 465.6 L1005.5 464.4 L1009.1 475.0 L1012.8 480.5 L1016.4 483.1 L1020.0 473.7 L1023.5 471.9 L1027.1 487.7 L1030.7 474.3 L1034.2 495.0 L1037.8 474.2 L1041.3 500.8 L1044.8 481.0 L1048.4 490.5 L1052.0 497.5 L1055.5 497.1 L1059.0 483.4 L1062.6 485.6 L1066.2 497.7 L1069.7 474.1 L1073.2 492.4 L1076.8 489.1 L1080.3 478.2 L1083.9 486.4 L1087.5 482.1 L1091.0 486.1 L1094.5 513.3 L1098.1 474.9 L1101.7 485.6 L1105.2 475.6 L1108.8 486.7 L1112.3 503.4 L1115.8 481.9 L1119.4 483.5 L1123.0 483.0 L1126.5 499.4 L1130.0 485.8 L1133.6 483.8 L1137.2 482.4 L1140.7 504.5 L1144.2 501.3 L1147.8 487.5 L1151.3 494.1 L1154.9 484.7 L1158.5 498.3 L1162.0 498.2 L1165.6 487.2 L1169.1 492.0 L1172.7 507.5 L1176.2 507.8 L1179.8 497.9 L1183.3 526.7 L1186.9 486.7 L1190.4 485.3 L1194.0 512.8 L1197.6 510.7 L1201.1 509.9 L1204.7 484.3 L1208.2 507.6 L1211.8 484.9 L1215.3 491.0 L1218.9 503.3 L1222.4 494.0 L1226.0 488.3 L1229.6 489.0 L1233.1 490.5 L1236.7 489.8 L1240.2 510.2 L1243.8 500.8 L1247.3 496.6 L1250.9 515.6 L1254.4 508.6 L1258.0 492.0 L1261.6 500.0 L1265.1 499.5 L1268.7 511.2 L1272.2 507.3 L1275.8 504.4 L1279.3 517.8 L1282.9 510.0 L1286.4 498.1 L1290.0 518.2 L1293.8 499.6 L1297.5 491.6 L1301.2 486.8 L1305.0 514.1 L1308.8 503.8 L1312.5 491.9 L1316.2 487.5 L1320.0 507.1 L1323.8 484.1 L1327.5 491.8 L1331.2 498.0 L1335.0 523.6 L1338.7 500.9 L1342.3 487.3 L1346.0 470.7 L1349.7 480.5 L1353.3 473.9 L1357.0 462.6 L1360.7 465.4 L1364.3 462.1 L1368.0 447.9 L1371.7 447.3 L1375.3 451.8 L1379.0 451.5 L1383.0 459.4 L1387.0 455.3 L1391.0 457.0 L1395.0 450.1 L1399.0 469.6 L1402.5 466.3 L1406.0 476.3 L1409.5 452.7 L1413.0 478.9 L1416.5 459.6 L1420.0 475.3 L1423.5 484.8 L1427.0 486.3 L1430.9 496.9 L1434.7 484.3 L1438.6 498.9 L1442.4 483.2 L1446.3 493.8 L1450.1 493.8 L1454.0 500.9 L1457.6 492.0 L1461.2 517.5 L1464.9 515.1 L1468.5 504.0 L1472.1 532.7 L1475.8 522.0 L1479.4 509.6 L1483.0 516.4 L1486.6 499.8 L1490.2 510.5 L1493.9 509.2 L1497.5 520.8 L1501.1 512.7 L1504.8 520.4 L1508.4 509.5 L1512.0 526.2" stroke="#d3233f"/>
<path d="M508.0 504.5 L514.0 495.5 L519.0 328.7 L525.0 199.8 L528.6 206.1 L532.3 214.0 L535.9 221.4 L539.5 230.0 L543.2 237.0 L546.8 242.3 L550.5 251.5 L554.1 258.5 L557.7 266.0 L561.4 274.6 L565.0 280.7 L568.8 282.9 L572.5 286.2 L576.2 286.8 L580.0 289.0 L583.5 286.0 L587.0 284.0 L590.5 280.5 L594.0 277.7 L598.0 280.7 L602.0 283.6 L606.0 289.5 L610.0 293.2 L614.0 297.8 L618.0 301.8 L622.0 298.5 L626.0 297.5 L630.0 295.7 L633.6 299.7 L637.1 299.4 L640.7 301.1 L644.2 304.9 L647.8 306.1 L651.3 306.3 L654.9 310.0 L658.4 311.9 L662.0 312.9 L666.0 307.7 L670.0 305.6 L675.0 334.3 L680.0 364.3 L683.8 367.8 L687.7 369.6 L691.5 372.1 L695.3 372.3 L699.2 375.2 L703.0 378.1 L706.5 383.5 L710.0 393.5 L713.6 391.9 L717.2 392.5 L720.8 393.2 L724.4 393.7 L728.0 396.1 L731.6 395.8 L735.2 396.2 L738.8 396.6 L742.4 396.3 L746.0 397.7 L749.6 400.7 L753.2 401.2 L756.8 402.2 L760.4 399.8 L764.0 400.0 L767.5 414.0 L771.0 432.1 L774.5 431.4 L778.1 432.6 L781.6 433.3 L785.2 434.5 L788.7 433.2 L792.3 437.6 L795.8 432.5 L799.4 440.0 L802.9 436.9 L806.5 432.1 L810.0 435.3 L813.7 437.8 L817.4 436.4 L821.1 438.3 L824.8 435.3 L828.5 434.7 L832.2 441.7 L835.9 434.8 L839.6 440.8 L843.3 442.3 L847.0 439.3 L850.7 439.9 L854.4 442.3 L858.1 438.6 L861.8 465.5 L865.5 443.8 L869.2 448.3 L872.8 457.7 L876.5 459.2 L880.2 465.2 L883.9 459.0 L887.6 460.2 L891.3 471.0 L895.0 478.4 L898.6 471.3 L902.1 468.5 L905.7 478.3 L909.3 465.0 L912.9 465.1 L916.4 471.2 L920.0 478.4 L923.6 478.5 L927.1 487.6 L930.7 486.6 L934.3 486.2 L937.9 486.4 L941.4 483.5 L945.0 492.2 L948.6 486.8 L952.1 500.3 L955.7 472.3 L959.3 495.2 L962.9 483.6 L966.4 479.6 L970.0 483.9 L973.6 474.1 L977.1 494.3 L980.7 494.0 L984.3 480.2 L987.9 495.4 L991.4 509.9 L995.0 499.6 L998.6 499.5 L1002.1 477.1 L1005.7 487.9 L1009.3 495.9 L1012.9 497.5 L1016.4 479.7 L1020.0 480.8 L1023.5 498.9 L1027.1 501.9 L1030.7 481.8 L1034.2 483.0 L1037.8 488.9 L1041.3 497.2 L1044.8 484.8 L1048.4 489.3 L1052.0 503.5 L1055.5 500.0 L1059.0 484.7 L1062.6 506.4 L1066.2 486.5 L1069.7 495.6 L1073.2 488.0 L1076.8 496.8 L1080.3 505.8 L1083.9 522.0 L1087.5 496.6 L1091.0 499.0 L1094.5 490.6 L1098.1 488.9 L1101.7 486.1 L1105.2 498.9 L1108.8 520.5 L1112.3 492.2 L1115.8 506.6 L1119.4 488.4 L1123.0 502.4 L1126.5 488.5 L1130.0 505.4 L1133.6 496.8 L1137.2 500.1 L1140.7 488.9 L1144.2 499.4 L1147.8 491.5 L1151.3 508.3 L1154.9 493.7 L1158.5 493.7 L1162.0 496.0 L1165.5 515.4 L1169.0 510.7 L1172.6 503.1 L1176.1 513.6 L1179.6 506.7 L1183.1 506.4 L1186.7 523.7 L1190.2 499.3 L1193.7 515.1 L1197.2 523.8 L1200.7 514.4 L1204.3 509.5 L1207.8 510.9 L1211.3 501.5 L1214.8 510.5 L1218.3 498.1 L1221.9 504.0 L1225.4 493.4 L1228.9 510.6 L1232.4 511.9 L1236.0 495.5 L1239.5 496.5 L1243.0 513.6 L1246.5 508.6 L1250.0 510.5 L1253.6 507.9 L1257.1 511.5 L1260.6 492.6 L1264.1 511.8 L1267.7 505.6 L1271.2 521.6 L1274.7 504.9 L1278.2 501.1 L1281.7 502.1 L1285.3 495.9 L1288.8 512.0 L1292.3 506.6 L1295.8 508.4 L1299.3 507.3 L1302.9 493.5 L1306.4 491.5 L1309.9 495.1 L1313.4 514.9 L1317.0 496.1 L1320.5 506.0 L1324.0 500.5 L1327.6 514.6 L1331.2 515.1 L1334.9 510.7 L1338.5 510.4 L1342.1 513.0 L1345.8 509.2 L1349.4 508.8 L1353.0 510.0 L1356.6 497.2 L1360.2 510.2 L1363.9 488.9 L1367.5 498.0 L1371.1 495.6 L1374.8 502.2 L1378.4 499.1 L1382.0 508.6 L1385.5 494.8 L1389.0 487.1 L1392.5 503.3 L1396.1 497.4 L1399.6 508.9 L1403.1 514.7 L1406.6 489.9 L1410.1 521.2 L1413.6 511.3 L1417.1 505.9 L1420.6 494.1 L1424.2 494.5 L1427.7 497.9 L1431.2 503.9 L1434.7 504.7 L1438.2 512.2 L1441.7 505.4 L1445.2 492.0 L1448.8 509.1 L1452.3 508.2 L1455.8 510.7 L1459.3 507.3 L1462.8 505.5 L1466.3 498.4 L1469.8 513.4 L1473.4 496.8 L1476.9 494.1 L1480.4 509.0 L1483.9 499.4 L1487.4 514.1 L1490.9 494.8 L1494.4 501.3 L1497.9 506.2 L1501.5 498.1 L1505.0 509.5 L1508.5 504.6 L1512.0 509.7" stroke="#86c43a"/>
<path d="M508.0 505.6 L514.0 499.3 L519.0 340.1 L525.0 208.4 L528.6 217.4 L532.3 224.3 L535.9 233.8 L539.5 239.6 L543.2 250.0 L546.8 257.2 L550.5 264.6 L554.1 274.3 L557.7 280.3 L561.4 288.2 L565.0 295.7 L568.8 298.6 L572.5 300.8 L576.2 302.0 L580.0 302.7 L584.0 299.3 L588.0 292.5 L592.0 288.4 L595.7 293.4 L599.4 298.4 L603.1 301.4 L606.9 305.6 L610.6 309.8 L614.3 312.7 L618.0 318.3 L622.0 316.4 L626.0 313.9 L630.0 312.7 L633.5 315.8 L637.0 316.3 L640.5 317.7 L644.0 321.6 L647.5 322.5 L651.0 324.3 L654.5 326.6 L658.0 329.2 L662.0 324.6 L666.0 322.8 L670.0 319.7 L675.0 348.2 L680.0 376.0 L683.8 380.2 L687.5 382.8 L691.2 385.6 L695.0 388.2 L698.8 391.8 L702.5 394.1 L706.2 398.9 L710.0 401.9 L713.5 403.3 L717.0 402.5 L720.5 405.3 L724.0 406.8 L727.5 407.3 L731.0 409.7 L734.5 410.9 L738.0 411.7 L741.5 413.8 L745.0 414.5 L748.5 416.8 L752.0 414.9 L755.5 418.9 L759.0 420.3 L762.5 421.1 L766.0 420.4 L769.6 421.7 L773.1 427.9 L776.7 432.3 L780.2 430.9 L783.8 433.0 L787.3 435.7 L790.9 437.2 L794.4 445.1 L798.0 450.8 L801.5 450.7 L805.0 447.7 L808.5 452.8 L812.0 447.3 L815.5 457.5 L819.0 453.0 L822.5 450.4 L826.0 459.7 L829.5 454.7 L833.0 457.9 L836.5 456.3 L840.0 463.2 L843.5 466.2 L847.0 471.6 L850.7 460.9 L854.4 463.1 L858.1 472.6 L861.8 468.9 L865.5 468.1 L869.2 469.0 L872.8 480.9 L876.5 467.9 L880.2 468.8 L883.9 489.8 L887.6 484.6 L891.3 479.4 L895.0 484.4 L898.6 490.7 L902.1 490.0 L905.7 480.2 L909.3 474.9 L912.9 476.6 L916.4 489.5 L920.0 484.7 L923.6 478.8 L927.1 481.4 L930.7 492.9 L934.3 486.0 L937.9 493.1 L941.4 482.4 L945.0 494.0 L948.6 495.5 L952.1 500.4 L955.7 503.7 L959.3 477.9 L962.9 496.5 L966.4 485.2 L970.0 483.0 L973.6 504.6 L977.1 480.7 L980.7 489.1 L984.3 501.0 L987.9 491.0 L991.4 501.1 L995.0 507.0 L998.6 502.3 L1002.1 510.5 L1005.7 497.2 L1009.3 488.6 L1012.9 484.1 L1016.4 502.2 L1020.0 509.5 L1023.5 503.4 L1027.1 505.6 L1030.7 496.6 L1034.2 500.3 L1037.8 485.8 L1041.3 505.9 L1044.8 487.1 L1048.4 509.1 L1052.0 502.4 L1055.5 499.1 L1059.0 492.1 L1062.6 510.3 L1066.2 490.0 L1069.7 490.8 L1073.2 499.5 L1076.8 504.3 L1080.3 512.7 L1083.9 489.8 L1087.5 498.9 L1091.0 507.2 L1094.5 505.8 L1098.1 516.5 L1101.7 513.3 L1105.2 515.1 L1108.8 500.1 L1112.3 511.3 L1115.8 516.4 L1119.4 515.7 L1123.0 500.3 L1126.5 515.0 L1130.0 508.6 L1133.6 507.9 L1137.2 498.6 L1140.7 492.5 L1144.2 494.9 L1147.8 510.7 L1151.3 513.4 L1154.9 519.9 L1158.5 516.0 L1162.0 493.5 L1165.5 507.7 L1169.0 506.4 L1172.6 508.8 L1176.1 507.0 L1179.6 501.1 L1183.1 493.9 L1186.7 494.3 L1190.2 514.5 L1193.7 496.9 L1197.2 499.1 L1200.7 496.7 L1204.3 507.9 L1207.8 496.4 L1211.3 515.8 L1214.8 496.6 L1218.3 501.8 L1221.9 497.9 L1225.4 519.2 L1228.9 501.5 L1232.4 512.0 L1236.0 507.6 L1239.5 504.8 L1243.0 511.0 L1246.5 513.2 L1250.0 517.9 L1253.6 525.7 L1257.1 516.3 L1260.6 517.1 L1264.1 518.8 L1267.7 512.8 L1271.2 502.4 L1274.7 513.5 L1278.2 519.9 L1281.7 518.7 L1285.3 516.3 L1288.8 514.2 L1292.3 501.4 L1295.8 495.6 L1299.3 517.8 L1302.9 503.6 L1306.4 515.0 L1309.9 515.6 L1313.4 498.0 L1317.0 503.3 L1320.5 504.8 L1324.0 520.1 L1327.5 509.0 L1331.1 509.3 L1334.6 506.0 L1338.2 513.3 L1341.7 498.0 L1345.3 503.1 L1348.8 496.1 L1352.4 514.2 L1355.9 500.4 L1359.5 513.6 L1363.0 515.1 L1366.6 502.4 L1370.1 496.8 L1373.7 501.5 L1377.2 520.9 L1380.8 511.4 L1384.3 511.7 L1387.8 510.9 L1391.4 496.8 L1394.9 511.1 L1398.5 521.4 L1402.0 503.6 L1405.6 510.3 L1409.1 507.2 L1412.7 508.2 L1416.2 499.3 L1419.8 505.7 L1423.3 497.8 L1426.9 502.8 L1430.4 517.7 L1434.0 512.2 L1437.5 520.4 L1441.1 514.1 L1444.6 514.3 L1448.2 516.9 L1451.7 507.2 L1455.2 512.1 L1458.8 513.7 L1462.3 500.9 L1465.9 507.0 L1469.4 501.3 L1473.0 504.2 L1476.5 519.7 L1480.1 518.3 L1483.6 507.7 L1487.2 503.7 L1490.7 503.7 L1494.3 507.5 L1497.8 510.3 L1501.4 499.5 L1504.9 519.7 L1508.5 499.1 L1512.0 501.4" stroke="#64b84a"/>
<path d="M508.0 508.6 L514.0 498.8 L519.0 348.9 L525.0 218.9 L529.0 232.0 L533.0 246.2 L537.0 260.8 L541.0 273.9 L545.0 287.7 L548.5 292.6 L552.0 296.9 L555.5 302.3 L559.0 305.2 L562.5 307.7 L566.0 312.2 L569.5 317.7 L573.0 321.2 L576.5 326.1 L580.0 330.4 L584.0 324.7 L588.0 317.2 L592.0 314.3 L595.7 317.5 L599.4 321.1 L603.1 325.3 L606.9 331.8 L610.6 334.3 L614.3 338.3 L618.0 343.3 L622.0 344.8 L626.0 342.9 L630.0 343.2 L634.0 340.7 L637.7 342.2 L641.3 342.1 L645.0 342.1 L648.7 343.8 L652.3 343.3 L656.0 342.9 L659.5 342.5 L663.0 337.9 L666.5 334.0 L670.0 330.5 L675.0 350.5 L680.0 368.0 L683.8 373.2 L687.5 381.2 L691.2 388.6 L695.0 394.6 L698.8 400.3 L702.5 407.7 L706.2 414.7 L710.0 421.5 L714.0 427.9 L718.0 437.9 L722.0 446.3 L725.9 444.7 L729.7 444.1 L733.6 441.6 L737.4 442.2 L741.3 439.4 L745.1 438.4 L749.0 438.9 L752.5 442.4 L756.0 440.4 L759.5 442.9 L763.0 443.8 L766.5 448.0 L770.0 448.0 L773.5 450.2 L777.0 456.2 L780.5 457.0 L784.0 461.9 L787.5 459.4 L791.0 463.9 L794.5 459.7 L798.0 470.6 L801.5 464.8 L805.0 468.5 L808.5 470.1 L812.0 476.3 L815.5 472.4 L819.0 479.7 L822.5 476.6 L826.0 472.7 L829.5 482.0 L833.0 474.8 L836.5 487.1 L840.0 480.7 L843.5 478.6 L847.0 490.9 L850.6 481.5 L854.2 482.2 L857.8 477.3 L861.4 479.8 L864.9 477.3 L868.5 482.1 L872.1 487.8 L875.7 480.5 L879.3 480.4 L882.9 492.4 L886.5 489.9 L890.1 479.9 L893.6 482.4 L897.2 488.6 L900.8 498.2 L904.4 498.1 L908.0 485.7 L911.6 504.2 L915.2 491.4 L918.8 487.1 L922.4 501.1 L925.9 493.5 L929.5 500.7 L933.1 502.3 L936.7 498.0 L940.3 502.1 L943.9 506.6 L947.5 484.2 L951.1 497.2 L954.6 500.7 L958.2 489.4 L961.8 497.1 L965.4 485.9 L969.0 500.4 L972.6 501.8 L976.3 485.1 L979.9 502.4 L983.6 501.8 L987.2 510.0 L990.9 491.6 L994.5 510.4 L998.1 496.6 L1001.8 509.4 L1005.4 505.4 L1009.1 503.7 L1012.7 490.2 L1016.4 492.7 L1020.0 498.4 L1023.5 510.2 L1027.1 511.9 L1030.7 497.1 L1034.2 499.4 L1037.8 513.5 L1041.3 492.7 L1044.8 513.4 L1048.4 510.4 L1052.0 505.4 L1055.5 514.1 L1059.0 509.2 L1062.6 496.3 L1066.2 505.4 L1069.7 512.6 L1073.2 506.8 L1076.8 509.2 L1080.3 500.3 L1083.9 517.1 L1087.5 498.0 L1091.0 523.8 L1094.5 515.5 L1098.1 495.6 L1101.7 505.4 L1105.2 502.9 L1108.8 505.9 L1112.3 509.0 L1115.8 510.6 L1119.4 513.3 L1123.0 501.9 L1126.5 498.2 L1130.0 515.5 L1133.6 511.5 L1137.2 512.4 L1140.7 514.6 L1144.2 496.8 L1147.8 499.5 L1151.3 515.4 L1154.9 513.6 L1158.5 517.6 L1162.0 522.7 L1165.5 501.6 L1169.0 506.4 L1172.6 527.4 L1176.1 501.3 L1179.6 512.1 L1183.1 511.5 L1186.7 501.1 L1190.2 512.9 L1193.7 500.0 L1197.2 515.8 L1200.7 514.5 L1204.3 516.5 L1207.8 504.3 L1211.3 497.7 L1214.8 509.8 L1218.3 500.3 L1221.9 519.0 L1225.4 512.7 L1228.9 510.0 L1232.4 515.0 L1236.0 523.3 L1239.5 506.7 L1243.0 503.4 L1246.5 502.6 L1250.0 509.2 L1253.6 516.8 L1257.1 508.6 L1260.6 521.1 L1264.1 500.0 L1267.7 513.7 L1271.2 498.4 L1274.7 531.4 L1278.2 513.4 L1281.7 499.4 L1285.3 517.4 L1288.8 499.9 L1292.3 500.2 L1295.8 499.2 L1299.3 524.7 L1302.9 499.8 L1306.4 511.7 L1309.9 502.5 L1313.4 517.8 L1317.0 515.4 L1320.5 531.8 L1324.0 517.4 L1327.5 521.6 L1331.1 523.0 L1334.6 505.9 L1338.2 516.9 L1341.7 501.9 L1345.3 537.3 L1348.8 507.3 L1352.4 505.2 L1355.9 538.6 L1359.5 507.0 L1363.0 517.9 L1366.6 503.7 L1370.1 519.9 L1373.7 527.3 L1377.2 514.5 L1380.8 523.4 L1384.3 520.8 L1387.8 505.9 L1391.4 508.7 L1394.9 517.1 L1398.5 522.5 L1402.0 515.5 L1405.6 518.6 L1409.1 522.8 L1412.7 524.7 L1416.2 518.7 L1419.8 505.9 L1423.3 509.2 L1426.9 502.9 L1430.4 508.1 L1434.0 508.4 L1437.5 521.3 L1441.1 503.2 L1444.6 518.7 L1448.2 531.1 L1451.7 513.8 L1455.2 508.5 L1458.8 519.9 L1462.3 505.4 L1465.9 515.6 L1469.4 500.6 L1473.0 512.5 L1476.5 519.0 L1480.1 511.9 L1483.6 520.6 L1487.2 508.1 L1490.7 523.1 L1494.3 523.2 L1497.8 508.2 L1501.4 526.8 L1504.9 521.6 L1508.5 512.8 L1512.0 522.9" stroke="#74c35c"/>
</g>
<path clip-path="url(#cl1)" d="M508.0 809.9 L510.6 813.6 L513.2 816.9 L515.8 821.6 L518.4 818.5 L521.1 814.6 L523.8 814.0 L526.4 809.5 L529.1 808.3 L531.7 805.4 L534.7 808.5 L537.6 810.2 L540.6 811.8 L543.5 815.2 L546.5 818.3 L549.1 823.8 L551.8 828.4 L554.4 833.6 L557.1 830.4 L559.8 826.1 L562.6 820.3 L565.3 817.4 L567.9 817.7 L570.6 816.3 L573.2 816.2 L575.9 817.0 L578.6 817.5 L581.2 815.8 L585.1 819.0 L588.0 818.1 L591.0 818.1 L593.7 817.1 L596.3 818.3 L599.0 818.5 L601.5 814.5 L604.0 808.7 L606.6 809.4 L609.3 808.1 L611.9 805.7 L614.8 772.7 L618.8 776.2 L621.4 778.0 L624.1 777.1 L626.7 777.6 L630.2 787.7 L633.6 796.4 L637.6 791.8 L641.6 796.0 L644.2 792.3 L646.9 790.1 L649.5 787.8 L652.1 790.4 L654.8 793.2 L657.4 794.7 L660.4 808.6 L665.3 810.7 L667.8 762.2 L670.3 715.8 L672.2 690.5 L676.2 686.6 L679.2 722.2 L682.1 756.5 L684.1 776.4 L687.0 780.7 L690.0 784.8 L693.0 785.7 L696.0 785.8 L699.0 807.4 L701.9 811.2 L704.9 810.5 L707.9 808.9 L710.9 806.0 L713.8 781.8 L716.8 758.1 L719.8 757.8 L722.7 759.3 L725.7 772.0 L728.7 771.8 L731.7 774.2 L734.6 776.0 L737.6 777.5 L741.5 781.4 L744.1 782.7 L746.8 783.0 L749.5 785.7 L752.1 787.2 L754.8 786.4 L757.4 789.9 L760.0 789.4 L762.7 789.3 L765.3 790.1 L767.9 792.6 L770.6 793.1 L773.2 792.5 L775.8 794.1 L778.5 795.3 L781.1 796.9 L783.7 796.7 L786.4 799.2 L789.0 799.4 L791.7 800.7 L794.3 802.1 L797.0 804.1 L799.6 806.0 L802.3 806.7 L804.9 807.8 L807.5 807.9 L810.0 807.6 L812.6 807.9 L815.2 808.2 L817.8 808.6 L820.3 807.8 L822.9 808.6 L825.5 808.5 L828.0 809.7 L830.6 808.6 L833.4 811.2 L836.3 811.6 L839.1 812.5 L841.9 815.0 L844.7 815.5 L847.6 817.1 L850.4 818.5 L853.2 821.0 L856.1 822.6 L858.9 822.2 L861.7 823.1 L864.5 824.2 L867.4 825.1 L870.2 826.9 L873.2 827.1 L876.2 827.6 L879.1 830.3 L882.1 830.6 L884.7 829.2 L887.3 831.2 L889.9 830.9 L892.5 830.1 L895.1 830.7 L897.7 831.4 L900.2 830.2 L902.8 830.2 L905.4 829.9 L908.0 830.5 L910.6 830.8 L913.2 831.0 L915.8 831.5 L918.4 829.5 L920.9 830.1 L923.5 831.2 L926.1 831.1 L928.6 830.6 L931.2 830.8 L933.8 830.0 L936.4 831.5 L938.9 830.5 L941.5 830.2 L944.8 828.6 L948.1 827.5 L951.4 828.4 L954.0 828.2 L956.5 826.5 L959.1 827.3 L961.7 827.8 L964.2 827.9 L966.8 827.7 L969.4 829.0 L972.0 827.8 L974.5 828.4 L977.1 829.4 L980.1 832.4 L983.0 835.7 L986.0 839.1 L989.0 842.9 L992.0 839.0 L995.0 835.0 L997.5 836.2 L1000.0 838.9 L1002.5 841.5 L1005.0 843.9 L1007.7 845.7 L1010.5 845.3 L1013.2 845.2 L1015.9 845.8 L1019.8 841.1 L1023.3 840.4 L1026.8 842.7 L1031.7 827.3 L1034.4 827.9 L1037.1 827.9 L1039.8 830.0 L1042.4 828.7 L1045.1 829.2 L1047.8 829.1 L1050.5 829.8 L1053.5 830.0 L1056.5 828.9 L1059.4 828.4 L1062.4 827.5 L1065.2 826.3 L1068.0 827.0 L1070.7 824.8 L1073.5 826.6 L1076.3 825.2 L1079.8 829.6 L1083.2 835.9 L1086.2 834.9 L1089.1 832.4 L1092.1 830.4 L1095.0 833.7 L1098.0 834.9 L1101.0 832.6 L1104.0 831.5 L1106.7 830.3 L1109.5 831.3 L1112.2 832.4 L1114.9 833.2 L1118.3 830.8 L1121.8 826.7 L1124.5 825.8 L1127.2 826.3 L1130.0 826.8 L1132.7 828.2 L1135.4 828.7 L1138.1 829.8 L1140.9 828.7 L1143.6 830.5 L1146.6 828.0 L1149.5 826.6 L1152.5 825.1 L1155.5 823.8 L1158.5 827.3 L1161.4 829.1 L1164.3 830.1 L1167.3 830.6 L1171.3 824.6 L1173.9 824.4 L1176.6 824.7 L1179.2 825.5 L1181.9 823.7 L1184.5 824.6 L1187.2 824.8 L1189.8 823.1 L1192.4 823.9 L1195.1 824.6 L1197.7 823.9 L1200.4 823.5 L1203.0 824.3 L1205.8 824.1 L1208.7 823.9 L1211.5 824.4 L1214.3 826.2 L1217.1 826.4 L1220.0 827.0 L1222.8 826.5 L1225.8 827.8 L1228.8 830.1 L1231.7 832.8 L1234.7 835.8 L1237.3 831.8 L1240.0 831.4 L1242.6 829.1 L1245.6 827.4 L1248.5 825.2 L1251.5 826.1 L1254.4 824.2 L1257.4 823.8 L1260.4 824.8 L1263.4 826.3 L1266.3 826.8 L1269.3 829.3 L1272.3 830.5 L1274.9 831.4 L1277.6 831.6 L1280.2 831.9 L1282.8 833.0 L1285.5 833.8 L1288.1 836.3 L1291.0 833.6 L1294.0 831.1 L1296.7 832.2 L1299.3 833.5 L1302.0 833.8 L1304.6 833.9 L1307.2 835.9 L1309.9 835.7 L1312.5 834.9 L1315.2 832.2 L1317.8 832.2 L1320.4 829.7 L1323.1 827.5 L1325.7 827.4 L1328.7 827.9 L1331.7 832.4 L1334.6 834.4 L1337.6 835.5 L1340.9 829.0 L1344.2 820.6 L1347.5 813.5 L1350.3 809.1 L1353.1 805.2 L1355.8 802.9 L1358.6 797.3 L1361.4 795.4 L1364.3 773.0 L1367.3 752.7 L1369.8 761.7 L1372.3 772.9 L1375.2 770.9 L1378.2 770.5 L1379.2 754.5 L1383.1 785.4 L1386.4 786.5 L1389.7 786.5 L1393.0 788.8 L1395.7 773.5 L1398.3 756.4 L1401.0 741.7 L1404.3 742.1 L1407.6 743.6 L1410.9 746.2 L1413.8 759.2 L1416.8 772.2 L1419.8 771.8 L1422.7 773.2 L1425.7 764.8 L1428.7 755.7 L1431.7 757.5 L1434.7 760.9 L1437.6 762.3 L1440.6 766.1 L1443.9 774.2 L1447.2 782.6 L1450.5 793.3 L1454.4 789.9 L1457.4 796.2 L1460.4 799.6 L1463.0 809.8 L1465.7 816.6 L1468.3 825.0 L1470.9 823.7 L1473.6 825.1 L1476.2 824.6 L1478.8 824.5 L1481.5 826.0 L1484.1 824.3 L1486.7 824.0 L1489.4 821.8 L1492.0 822.3 L1495.0 822.7 L1498.0 820.8 L1500.9 822.1 L1503.9 822.3 L1506.6 825.6 L1509.3 828.3 L1512.0 830.0" stroke="#1a1a1a" stroke-width="3.0" fill="none" stroke-linejoin="round"/>
<path clip-path="url(#cl2)" d="M508.0 997.7 L510.9 992.5 L513.9 988.9 L516.5 992.9 L519.2 993.5 L521.8 995.9 L525.7 992.7 L528.7 994.8 L531.7 996.9 L534.3 994.8 L537.0 989.7 L539.6 986.5 L542.2 986.2 L544.9 988.8 L547.5 988.1 L550.5 994.2 L553.5 998.0 L556.4 1003.3 L559.4 1007.3 L562.3 1006.9 L565.3 1006.7 L569.3 1013.4 L572.6 1014.0 L575.9 1014.9 L579.2 1018.5 L582.2 1018.9 L585.1 1019.3 L588.1 1020.1 L591.1 1016.2 L594.0 1014.1 L597.0 1012.4 L600.0 1010.2 L603.0 1007.6 L606.0 1006.1 L608.9 1007.7 L611.9 1007.7 L614.8 984.6 L617.8 986.0 L620.8 987.9 L623.8 984.8 L626.7 980.9 L629.6 976.4 L632.6 972.7 L635.3 975.8 L637.9 978.9 L640.6 981.1 L643.5 977.6 L646.5 976.8 L650.0 979.5 L653.4 984.9 L656.1 983.5 L658.8 980.0 L661.6 979.6 L664.3 979.0 L667.3 933.6 L670.3 889.9 L675.2 905.2 L678.2 899.3 L681.2 894.5 L684.1 889.1 L687.1 884.3 L690.1 894.1 L693.0 894.2 L696.0 895.3 L699.0 894.9 L701.9 894.4 L704.6 903.0 L707.2 909.6 L709.9 916.6 L713.3 910.5 L716.8 903.1 L720.8 922.2 L723.5 924.7 L726.2 926.0 L728.9 929.6 L731.6 929.8 L735.6 914.7 L738.2 908.9 L740.9 905.2 L743.5 902.8 L746.1 902.3 L748.8 903.4 L751.4 902.8 L754.0 907.9 L756.5 910.9 L759.1 914.3 L761.6 918.3 L764.2 921.8 L766.7 924.4 L769.3 927.9 L772.3 935.4 L775.2 944.8 L778.2 954.9 L781.7 961.2 L785.1 964.6 L790.0 957.3 L793.5 959.9 L797.0 964.8 L799.6 966.8 L802.3 966.9 L804.9 968.3 L807.5 967.2 L810.2 968.5 L812.8 969.2 L815.8 978.7 L818.4 976.7 L821.0 978.4 L823.6 976.6 L826.2 977.8 L828.8 976.7 L831.4 976.0 L834.0 977.3 L836.6 975.7 L839.2 977.8 L841.9 977.7 L844.5 981.0 L847.1 982.8 L849.8 982.1 L852.4 985.1 L855.0 985.4 L857.7 986.5 L860.3 988.5 L863.3 987.5 L866.2 986.4 L869.2 984.8 L872.2 983.1 L874.8 983.2 L877.5 984.2 L880.1 984.0 L882.7 986.4 L885.4 986.9 L888.0 987.5 L891.0 989.5 L894.0 988.7 L896.9 989.2 L899.9 990.0 L902.6 991.9 L905.4 995.0 L908.1 997.4 L910.8 997.9 L913.5 1000.7 L916.2 1002.8 L919.0 1004.8 L921.7 1006.4 L924.3 1008.4 L927.0 1008.8 L929.6 1010.5 L932.2 1012.0 L934.8 1012.1 L937.3 1014.0 L939.9 1013.3 L942.5 1015.3 L945.1 1014.5 L947.7 1014.8 L950.2 1016.3 L952.8 1016.6 L955.4 1017.1 L958.3 1015.6 L961.3 1011.8 L963.9 1015.2 L966.6 1018.0 L969.2 1019.4 L972.2 1020.2 L975.2 1022.0 L978.1 1021.9 L981.1 1021.6 L983.7 1019.1 L986.4 1016.8 L989.0 1015.1 L991.7 1015.3 L994.3 1017.5 L997.0 1017.8 L999.7 1018.4 L1002.3 1019.7 L1005.0 1021.5 L1008.3 1018.9 L1011.6 1017.7 L1014.9 1017.0 L1017.9 1018.3 L1020.8 1020.9 L1023.8 1021.7 L1026.8 1022.2 L1029.8 1020.6 L1032.8 1019.4 L1035.7 1018.6 L1038.7 1019.3 L1041.3 1019.4 L1043.8 1018.9 L1046.4 1020.6 L1049.0 1019.8 L1051.6 1021.5 L1054.1 1021.6 L1056.7 1021.7 L1059.3 1023.8 L1061.8 1024.3 L1064.4 1024.4 L1067.2 1021.8 L1070.0 1021.2 L1072.7 1018.9 L1075.5 1017.7 L1078.3 1014.5 L1081.2 1016.7 L1084.2 1014.8 L1087.1 1015.6 L1090.1 1016.3 L1092.8 1015.8 L1095.5 1015.5 L1098.3 1016.9 L1101.0 1017.7 L1103.7 1016.1 L1106.5 1015.9 L1109.2 1016.9 L1111.9 1015.8 L1114.8 1018.8 L1117.8 1022.0 L1120.5 1021.5 L1123.1 1021.0 L1125.8 1020.9 L1128.4 1022.2 L1131.0 1023.4 L1133.7 1023.4 L1136.2 1020.6 L1138.8 1020.7 L1141.3 1019.8 L1143.9 1018.3 L1146.4 1018.6 L1149.0 1017.3 L1151.5 1017.2 L1154.8 1019.3 L1158.1 1024.1 L1161.4 1027.2 L1164.0 1025.0 L1166.7 1022.9 L1169.3 1022.4 L1172.0 1021.9 L1174.8 1023.6 L1177.5 1024.0 L1180.2 1024.1 L1182.9 1025.4 L1185.6 1023.6 L1188.4 1025.5 L1191.1 1026.1 L1193.7 1027.1 L1196.4 1030.2 L1199.0 1032.2 L1201.6 1033.8 L1204.3 1034.5 L1206.9 1033.9 L1209.6 1035.1 L1212.2 1034.6 L1214.9 1035.8 L1217.5 1035.1 L1220.2 1037.1 L1222.8 1036.2 L1225.6 1033.9 L1228.3 1033.0 L1231.1 1033.3 L1233.8 1032.5 L1236.6 1030.7 L1239.3 1032.2 L1241.9 1036.6 L1244.6 1038.8 L1247.4 1036.7 L1250.3 1036.6 L1253.1 1036.6 L1255.9 1034.3 L1258.7 1033.6 L1261.6 1033.7 L1264.4 1034.2 L1267.1 1035.5 L1269.8 1034.9 L1272.5 1037.3 L1275.2 1038.0 L1278.0 1039.2 L1280.7 1039.5 L1283.4 1041.4 L1286.1 1041.6 L1288.8 1042.9 L1291.4 1042.4 L1294.0 1042.0 L1296.7 1043.3 L1299.3 1043.7 L1302.0 1043.8 L1304.7 1043.9 L1307.5 1044.2 L1310.2 1044.4 L1312.9 1043.5 L1315.6 1043.7 L1318.3 1044.2 L1321.1 1044.2 L1323.8 1044.0 L1326.6 1044.2 L1329.4 1042.6 L1332.2 1043.0 L1335.1 1042.0 L1337.9 1042.8 L1340.7 1042.2 L1343.5 1042.0 L1346.5 1037.1 L1349.5 1032.2 L1352.4 1029.6 L1355.4 1024.4 L1358.1 1024.1 L1360.9 1023.9 L1363.6 1024.2 L1366.3 1024.9 L1369.0 1025.2 L1371.8 1024.4 L1374.5 1025.0 L1377.2 1023.7 L1379.8 1019.0 L1382.5 1013.5 L1385.1 1008.1 L1388.4 1005.0 L1391.7 1002.6 L1395.0 999.3 L1398.0 984.1 L1401.0 970.4 L1403.6 971.0 L1406.3 970.0 L1408.9 969.4 L1411.9 966.6 L1414.8 964.0 L1417.8 960.3 L1420.8 957.0 L1423.3 960.2 L1425.9 961.8 L1428.4 966.4 L1431.0 967.8 L1433.5 970.5 L1436.1 973.6 L1438.6 975.6 L1441.6 971.3 L1444.5 968.6 L1447.5 965.0 L1450.5 963.7 L1454.4 973.6 L1457.4 967.5 L1460.3 961.8 L1463.3 956.1 L1466.3 951.2 L1469.0 951.5 L1471.8 951.6 L1474.5 951.3 L1477.2 951.1 L1479.9 949.8 L1482.6 949.5 L1485.4 949.0 L1488.1 950.3 L1491.0 950.9 L1494.0 953.3 L1496.8 954.8 L1499.6 957.5 L1502.3 958.5 L1505.1 958.5 L1507.9 960.9 L1512.0 955.0" stroke="#1a1a1a" stroke-width="3.0" fill="none" stroke-linejoin="round"/>
<path clip-path="url(#cl3)" d="M508.0 1241.2 L510.6 1240.0 L513.2 1240.5 L515.8 1239.0 L518.6 1240.7 L521.4 1244.5 L524.1 1245.7 L526.9 1247.8 L529.7 1250.4 L532.3 1248.7 L535.0 1247.3 L537.6 1247.0 L540.2 1246.0 L542.9 1244.3 L545.5 1244.0 L548.5 1243.2 L551.4 1240.6 L554.4 1239.7 L557.4 1242.5 L560.4 1244.6 L563.4 1247.2 L566.0 1249.2 L568.7 1249.8 L571.3 1249.8 L573.9 1250.3 L576.6 1252.2 L579.2 1253.0 L582.2 1251.4 L585.1 1251.9 L588.0 1251.6 L591.0 1250.8 L594.0 1248.3 L597.0 1246.9 L600.5 1250.5 L603.9 1253.4 L607.4 1251.2 L610.9 1248.4 L613.5 1239.4 L616.2 1230.4 L618.8 1221.3 L621.8 1223.7 L624.8 1227.3 L627.7 1228.2 L630.7 1232.4 L633.7 1227.4 L636.6 1225.2 L640.6 1237.8 L643.2 1239.5 L645.9 1240.1 L648.5 1240.4 L651.5 1244.5 L654.4 1247.2 L657.4 1248.7 L661.4 1224.1 L664.8 1233.4 L668.3 1244.3 L671.0 1237.2 L673.8 1232.7 L676.5 1227.2 L679.2 1222.7 L682.2 1227.0 L685.1 1231.1 L687.8 1231.2 L690.5 1231.7 L693.3 1233.2 L696.0 1232.6 L698.6 1230.9 L701.2 1229.9 L703.7 1227.3 L706.3 1226.5 L708.9 1222.7 L711.7 1229.0 L714.4 1234.0 L717.2 1239.1 L719.9 1244.8 L722.7 1250.4 L725.7 1251.1 L728.7 1251.5 L731.6 1251.8 L734.6 1251.6 L737.6 1252.6 L740.2 1252.1 L742.9 1252.8 L745.5 1251.0 L748.1 1251.6 L750.8 1251.4 L753.4 1250.9 L756.0 1252.4 L758.7 1251.5 L761.3 1253.3 L764.0 1252.7 L766.6 1253.1 L769.3 1254.1 L771.9 1254.4 L774.6 1254.3 L777.2 1254.4 L779.8 1256.0 L782.3 1254.8 L784.9 1254.2 L787.4 1255.3 L790.0 1254.9 L792.5 1254.5 L795.1 1254.4 L797.6 1255.4 L800.2 1254.3 L802.7 1254.4 L805.3 1255.4 L807.9 1254.1 L810.4 1254.2 L813.0 1253.6 L815.5 1254.6 L818.1 1254.5 L820.6 1254.0 L823.2 1253.9 L825.7 1253.4 L828.3 1254.5 L830.9 1253.8 L833.4 1254.4 L836.0 1253.5 L838.5 1254.1 L841.1 1252.6 L843.6 1253.0 L846.2 1254.4 L848.7 1253.8 L851.3 1253.7 L853.8 1253.3 L856.4 1253.1 L859.0 1252.5 L861.7 1252.3 L864.3 1253.2 L866.9 1253.1 L869.6 1252.2 L872.2 1252.8 L874.8 1251.7 L877.5 1252.5 L880.1 1251.5 L882.7 1252.6 L885.4 1252.5 L888.0 1253.3 L890.7 1252.8 L893.3 1253.8 L896.0 1254.4 L898.6 1253.8 L901.3 1254.5 L903.9 1255.6 L906.5 1255.1 L909.2 1255.1 L911.8 1255.3 L914.5 1254.7 L917.1 1253.8 L919.8 1254.1 L922.4 1254.7 L925.0 1254.0 L927.7 1254.2 L930.3 1253.3 L933.0 1253.3 L935.6 1254.1 L938.3 1253.3 L941.0 1252.5 L943.7 1250.9 L946.5 1251.4 L949.2 1249.8 L951.9 1251.1 L954.6 1250.6 L957.3 1249.7 L961.3 1245.8 L963.9 1248.3 L966.6 1248.3 L969.2 1250.9 L972.0 1249.3 L974.9 1247.3 L977.7 1248.0 L980.5 1246.1 L983.3 1245.9 L986.2 1244.7 L989.0 1243.4 L992.0 1246.0 L995.0 1246.6 L997.5 1246.0 L1000.0 1242.9 L1002.5 1240.3 L1005.0 1239.0 L1007.7 1237.0 L1010.4 1235.6 L1013.1 1235.3 L1015.7 1232.9 L1018.4 1231.5 L1021.1 1230.4 L1023.8 1229.0 L1026.3 1232.2 L1028.8 1234.2 L1032.7 1247.9 L1035.3 1247.9 L1038.0 1246.4 L1040.6 1246.8 L1043.3 1245.5 L1045.9 1246.4 L1048.6 1245.9 L1051.2 1245.4 L1053.8 1244.1 L1056.5 1243.5 L1059.1 1244.8 L1061.8 1243.7 L1064.4 1243.5 L1067.3 1245.0 L1070.3 1244.6 L1073.0 1245.4 L1075.7 1244.7 L1078.4 1245.1 L1081.1 1244.1 L1083.8 1243.3 L1086.5 1244.6 L1089.2 1243.0 L1091.9 1243.6 L1094.6 1243.5 L1097.3 1242.1 L1100.0 1242.7 L1102.6 1242.4 L1105.3 1242.4 L1107.9 1242.7 L1110.6 1244.5 L1113.2 1243.7 L1115.9 1244.3 L1118.5 1244.6 L1121.2 1244.0 L1123.8 1245.8 L1126.4 1245.7 L1129.1 1245.8 L1131.7 1244.6 L1134.4 1244.2 L1137.0 1244.3 L1139.6 1245.0 L1142.3 1244.7 L1144.9 1244.0 L1147.6 1244.1 L1150.2 1243.3 L1152.8 1244.7 L1155.5 1243.6 L1158.1 1243.6 L1160.8 1244.0 L1163.4 1242.7 L1166.0 1245.0 L1168.7 1245.6 L1171.3 1247.8 L1173.9 1246.4 L1176.6 1246.8 L1179.2 1247.5 L1181.9 1247.2 L1184.5 1247.0 L1187.2 1247.4 L1189.8 1246.6 L1192.4 1247.1 L1195.1 1246.2 L1197.7 1247.8 L1200.4 1246.7 L1203.0 1247.9 L1205.8 1246.7 L1208.7 1246.3 L1211.5 1245.8 L1214.3 1244.2 L1217.1 1245.0 L1220.0 1243.4 L1222.8 1244.0 L1225.6 1243.3 L1228.3 1242.5 L1231.1 1242.1 L1233.8 1240.8 L1236.6 1240.6 L1239.2 1240.7 L1241.9 1238.7 L1244.5 1238.0 L1247.2 1238.1 L1249.8 1237.8 L1252.5 1236.6 L1255.3 1235.3 L1258.2 1235.2 L1261.0 1232.8 L1263.8 1230.9 L1266.6 1229.6 L1269.5 1229.0 L1272.3 1226.8 L1274.9 1225.1 L1277.6 1222.9 L1280.2 1220.4 L1283.5 1220.8 L1286.8 1221.8 L1290.1 1220.5 L1292.7 1226.7 L1295.4 1229.5 L1298.0 1233.5 L1301.3 1235.6 L1304.6 1235.8 L1307.9 1236.4 L1310.5 1234.8 L1313.2 1234.9 L1315.8 1233.0 L1318.5 1235.8 L1321.1 1236.8 L1323.8 1239.4 L1326.4 1237.0 L1329.1 1233.8 L1331.7 1231.4 L1334.5 1229.4 L1337.2 1229.3 L1340.0 1228.2 L1342.7 1226.0 L1345.5 1225.6 L1348.5 1206.0 L1351.5 1184.7 L1354.4 1166.2 L1357.4 1146.2 L1360.4 1124.6 L1363.3 1150.7 L1366.3 1176.2 L1368.8 1141.4 L1371.3 1105.9 L1375.2 1110.6 L1378.2 1143.1 L1381.1 1176.2 L1384.1 1209.5 L1388.1 1225.2 L1391.5 1227.0 L1395.0 1227.8 L1398.0 1236.5 L1401.0 1246.6 L1403.6 1244.9 L1406.3 1244.3 L1408.9 1242.5 L1411.7 1240.7 L1414.5 1237.9 L1417.2 1235.4 L1420.0 1230.8 L1422.8 1227.5 L1425.4 1230.6 L1428.1 1231.6 L1430.7 1234.3 L1433.3 1233.2 L1436.0 1233.0 L1438.6 1232.5 L1441.6 1232.1 L1444.5 1229.0 L1447.5 1226.6 L1450.5 1224.4 L1453.8 1226.7 L1457.1 1228.4 L1460.4 1229.4 L1463.0 1233.4 L1465.7 1238.5 L1468.3 1244.1 L1471.3 1243.9 L1474.2 1245.1 L1477.2 1245.7 L1480.2 1246.2 L1482.9 1246.6 L1485.5 1246.1 L1488.2 1246.9 L1490.8 1247.7 L1493.5 1246.3 L1496.1 1247.0 L1498.8 1248.2 L1501.4 1248.5 L1504.0 1246.8 L1506.7 1248.1 L1509.3 1248.3 L1512.0 1248.9" stroke="#1a1a1a" stroke-width="3.0" fill="none" stroke-linejoin="round"/>
<path clip-path="url(#cl4)" d="M508.3 1398.3 L510.9 1397.5 L513.5 1397.9 L516.1 1398.9 L518.7 1398.9 L522.0 1406.2 L525.3 1415.7 L527.9 1414.5 L530.5 1413.1 L533.1 1410.3 L535.7 1410.0 L539.0 1413.6 L542.2 1418.2 L545.3 1411.1 L548.3 1404.0 L551.4 1398.8 L554.0 1398.8 L556.6 1400.8 L559.2 1400.5 L561.8 1404.7 L564.5 1408.9 L567.1 1410.9 L569.7 1416.0 L572.3 1413.8 L574.9 1415.4 L577.5 1412.6 L580.1 1413.8 L582.7 1412.4 L585.3 1411.9 L587.9 1412.4 L590.5 1412.7 L593.6 1409.0 L596.6 1404.9 L599.7 1402.4 L603.6 1408.3 L606.2 1408.2 L608.8 1405.1 L611.4 1403.4 L614.0 1397.7 L616.7 1394.3 L619.3 1387.5 L621.9 1390.0 L624.5 1392.2 L627.1 1392.9 L630.4 1378.8 L633.6 1362.6 L636.7 1363.0 L639.7 1363.7 L642.8 1365.6 L646.0 1364.6 L649.3 1361.1 L652.5 1366.9 L655.8 1372.9 L658.9 1378.7 L661.9 1385.4 L665.0 1393.2 L667.6 1383.4 L670.2 1375.1 L672.8 1365.4 L675.7 1353.0 L678.6 1343.0 L681.6 1331.9 L684.5 1320.3 L688.5 1325.2 L691.8 1336.7 L695.0 1345.7 L697.6 1343.3 L700.2 1340.6 L702.8 1336.0 L705.4 1340.6 L708.0 1341.3 L710.7 1344.4 L713.3 1348.0 L716.5 1362.6 L719.8 1379.8 L722.7 1378.2 L725.6 1378.1 L728.6 1376.0 L731.5 1375.4 L734.6 1380.8 L737.6 1385.7 L740.7 1390.9 L743.6 1387.6 L746.5 1384.7 L749.5 1380.2 L752.4 1378.3 L755.7 1382.5 L759.0 1387.3 L761.9 1387.0 L764.9 1388.1 L767.8 1385.8 L770.7 1387.2 L773.3 1386.7 L775.9 1389.9 L778.5 1389.7 L781.2 1391.2 L783.8 1393.0 L786.4 1392.2 L790.3 1400.0 L793.5 1394.9 L796.8 1388.1 L799.4 1387.5 L802.0 1385.4 L804.7 1385.0 L807.3 1383.2 L809.9 1387.8 L812.5 1391.3 L815.1 1396.0 L817.7 1392.4 L820.3 1389.4 L822.9 1387.3 L825.5 1383.0 L828.1 1387.4 L830.8 1389.3 L833.4 1391.2 L836.0 1390.4 L838.6 1390.8 L841.2 1390.2 L843.8 1390.1 L846.4 1388.7 L849.0 1388.3 L851.6 1388.8 L854.4 1388.5 L857.2 1391.3 L860.0 1392.2 L862.8 1393.6 L865.6 1394.6 L868.4 1394.1 L871.2 1396.6 L874.3 1393.4 L877.3 1389.8 L880.4 1389.1 L883.0 1390.4 L885.6 1392.9 L888.2 1394.4 L890.8 1395.4 L893.5 1399.4 L896.1 1399.9 L898.7 1402.2 L901.3 1405.2 L903.9 1401.6 L906.5 1399.6 L909.1 1397.6 L912.0 1393.3 L914.9 1391.7 L917.7 1387.5 L920.6 1385.5 L923.5 1383.1 L927.4 1398.8 L930.0 1399.4 L932.6 1401.8 L935.2 1405.7 L937.8 1406.5 L940.4 1408.6 L943.0 1409.8 L945.6 1411.9 L948.3 1413.3 L950.9 1414.4 L953.5 1415.1 L956.1 1416.8 L958.7 1418.0 L961.3 1418.5 L963.9 1421.6 L966.5 1423.0 L969.1 1423.9 L971.7 1425.7 L974.5 1421.2 L977.4 1418.8 L980.2 1414.1 L983.0 1412.0 L985.9 1408.7 L988.7 1406.0 L991.7 1407.0 L994.6 1408.4 L997.5 1408.2 L1000.5 1410.8 L1003.3 1414.2 L1006.2 1417.9 L1009.0 1422.2 L1011.8 1424.0 L1014.5 1424.9 L1017.3 1425.7 L1020.0 1426.1 L1022.8 1425.7 L1025.4 1423.0 L1028.1 1421.4 L1030.7 1417.9 L1033.4 1417.2 L1036.0 1415.6 L1038.7 1414.8 L1041.7 1415.6 L1044.6 1413.9 L1047.5 1414.9 L1050.5 1413.2 L1053.1 1414.4 L1055.6 1413.1 L1058.2 1413.0 L1060.7 1413.3 L1063.3 1412.4 L1065.8 1413.4 L1068.4 1413.3 L1073.3 1415.4 L1076.3 1410.9 L1079.2 1403.1 L1082.2 1395.6 L1084.7 1399.9 L1087.2 1400.1 L1090.2 1397.9 L1093.1 1395.0 L1096.1 1392.8 L1098.7 1395.6 L1101.4 1396.7 L1104.0 1397.8 L1106.6 1396.2 L1109.3 1395.3 L1111.9 1395.9 L1115.2 1398.1 L1118.5 1403.2 L1121.8 1406.6 L1124.8 1402.8 L1127.8 1402.6 L1130.7 1398.6 L1133.7 1398.3 L1136.3 1398.4 L1139.0 1397.9 L1141.6 1397.4 L1144.2 1397.9 L1146.9 1396.1 L1149.5 1396.9 L1152.5 1399.2 L1155.5 1402.5 L1158.1 1401.0 L1160.8 1401.3 L1163.4 1400.0 L1166.7 1403.1 L1170.0 1405.4 L1173.3 1407.9 L1176.6 1407.7 L1179.9 1406.4 L1183.2 1404.9 L1187.1 1398.4 L1191.1 1404.7 L1194.4 1401.1 L1197.7 1398.1 L1201.0 1396.4 L1204.0 1399.8 L1207.0 1402.8 L1209.9 1404.6 L1212.9 1407.1 L1217.8 1400.8 L1220.8 1406.4 L1223.8 1411.6 L1226.5 1409.4 L1229.2 1407.8 L1232.0 1404.5 L1234.7 1401.8 L1238.0 1406.6 L1241.3 1410.7 L1244.6 1413.0 L1247.9 1415.7 L1251.2 1417.9 L1254.5 1417.7 L1257.5 1415.8 L1260.4 1414.6 L1263.3 1412.3 L1266.3 1411.8 L1269.3 1415.8 L1272.3 1418.5 L1275.3 1421.5 L1278.2 1423.4 L1281.2 1424.5 L1284.2 1428.6 L1287.2 1423.8 L1290.1 1420.6 L1293.0 1425.4 L1296.0 1428.3 L1299.0 1428.0 L1302.0 1426.3 L1305.3 1430.9 L1308.6 1432.9 L1311.9 1437.2 L1314.9 1438.1 L1317.8 1438.6 L1320.8 1438.8 L1323.8 1439.9 L1327.7 1433.4 L1330.5 1431.0 L1333.3 1429.4 L1336.0 1426.9 L1338.8 1424.3 L1341.6 1422.8 L1344.9 1413.2 L1348.2 1400.7 L1351.5 1390.5 L1354.1 1389.4 L1356.8 1389.3 L1359.4 1388.8 L1362.7 1394.3 L1366.0 1399.9 L1369.3 1404.2 L1371.9 1403.2 L1374.6 1401.2 L1377.2 1399.0 L1379.8 1385.8 L1382.5 1371.2 L1385.1 1358.9 L1387.6 1356.1 L1390.1 1354.5 L1393.5 1359.1 L1397.0 1366.2 L1399.6 1360.5 L1402.3 1355.5 L1404.9 1350.1 L1407.5 1350.6 L1410.2 1353.5 L1412.8 1354.9 L1415.5 1352.1 L1418.1 1348.7 L1420.8 1347.5 L1423.4 1351.5 L1426.1 1355.1 L1428.7 1357.8 L1431.3 1357.1 L1434.0 1360.1 L1436.6 1360.6 L1439.2 1360.7 L1441.9 1363.2 L1444.5 1364.0 L1447.1 1361.1 L1449.8 1356.6 L1452.4 1354.4 L1455.4 1354.9 L1458.4 1355.7 L1461.0 1363.4 L1463.7 1369.7 L1466.3 1375.6 L1469.3 1378.1 L1472.2 1381.0 L1475.2 1382.1 L1478.2 1384.9 L1480.8 1382.4 L1483.5 1381.8 L1486.1 1377.9 L1489.1 1379.9 L1492.0 1381.1 L1495.0 1382.5 L1498.0 1384.1 L1501.3 1385.3 L1504.6 1386.9 L1507.9 1389.2 L1512.0 1381.1" stroke="#1a1a1a" stroke-width="3.0" fill="none" stroke-linejoin="round"/>
<path clip-path="url(#cr0)" d="M1966.8 375.8 C1968.0 360.3 1975.2 262.6 1977.5 243.0 C1979.8 223.4 1984.1 213.2 1986.6 207.9 C1989.1 202.6 1996.4 198.7 1998.9 197.2 C2001.4 195.7 2004.4 194.3 2008.0 194.7 C2011.6 195.0 2024.8 199.6 2029.4 200.2 C2034.0 200.8 2042.7 200.9 2047.7 200.2 C2052.7 199.5 2066.0 195.3 2072.1 194.1 C2078.2 192.9 2095.3 189.7 2099.6 189.5 C2103.9 189.3 2106.5 191.2 2108.8 192.6 C2111.1 194.0 2115.9 200.8 2119.5 201.8 C2123.1 202.8 2135.6 199.8 2139.3 200.8 C2143.0 201.8 2147.2 207.6 2151.5 210.0 C2155.8 212.4 2169.2 218.0 2176.0 221.0 C2182.8 224.0 2202.0 231.3 2209.5 235.3 C2217.0 239.3 2235.1 251.1 2240.1 255.2 C2245.1 259.3 2248.4 266.6 2252.3 270.5 C2256.2 274.4 2268.0 283.5 2273.7 288.8 C2279.4 294.1 2293.3 308.8 2301.1 316.3 C2308.9 323.8 2334.7 348.6 2340.8 352.9 C2346.9 357.2 2349.1 351.5 2353.0 352.9 C2356.9 354.3 2370.8 363.9 2374.4 365.1 C2378.0 366.3 2381.5 363.1 2383.6 363.6 C2385.7 364.1 2388.1 368.5 2392.7 369.7 C2397.3 370.9 2416.0 372.3 2423.3 374.3 C2430.6 376.3 2447.7 384.2 2455.0 386.5 C2462.3 388.8 2478.4 393.0 2485.5 394.1 C2492.6 395.2 2510.0 395.1 2516.1 395.6 C2522.2 396.1 2533.8 398.7 2537.4 398.7 C2541.0 398.7 2544.5 395.2 2546.6 395.6 C2548.7 396.0 2552.2 401.8 2555.8 401.8 C2559.4 401.8 2572.1 397.0 2577.1 395.6 C2582.1 394.2 2593.9 392.7 2598.5 389.5 C2603.1 386.3 2612.2 371.9 2616.8 368.2 C2621.4 364.5 2633.2 360.9 2638.2 357.5 C2643.2 354.1 2656.0 341.3 2659.6 339.2 C2663.2 337.1 2665.1 341.2 2668.7 339.2 C2672.3 337.2 2684.8 325.8 2690.1 322.4 C2695.4 319.0 2708.1 312.3 2714.5 310.2 C2720.9 308.1 2738.0 305.8 2745.1 304.0 C2752.2 302.2 2769.2 296.7 2775.6 294.9 C2782.0 293.1 2796.1 289.0 2800.0 288.8 C2803.9 288.6 2806.7 293.4 2809.2 293.4 C2811.7 293.4 2818.6 289.0 2821.4 288.8 C2824.2 288.6 2830.0 290.0 2833.6 291.8 C2837.2 293.6 2847.7 300.1 2852.0 304.0 C2856.3 307.9 2866.0 318.3 2870.3 325.4 C2874.6 332.5 2885.0 359.8 2888.6 365.1 C2892.2 370.4 2898.0 371.6 2900.8 371.2 C2903.6 370.8 2910.5 363.7 2913.0 362.1 C2915.5 360.5 2918.8 355.2 2922.2 357.5 C2925.6 359.8 2937.4 381.0 2942.0 381.9 C2946.6 382.8 2959.6 367.1 2961.9 365.1" stroke="#3a5ca8" stroke-width="3.8" fill="none" stroke-linejoin="round"/>
<path clip-path="url(#cr0)" d="M1966.8 365.1 C1968.0 351.9 1974.8 268.1 1977.5 252.1 C1980.2 236.1 1987.2 230.9 1989.7 227.7 C1992.2 224.5 1994.3 224.3 1998.9 224.7 C2003.5 225.1 2023.7 230.6 2029.4 231.4 C2035.1 232.2 2039.5 232.5 2047.7 231.4 C2055.9 230.3 2092.5 222.8 2099.6 222.2 C2106.7 221.6 2106.5 224.6 2108.8 226.2 C2111.1 227.8 2115.9 235.1 2119.5 236.3 C2123.1 237.5 2134.9 235.2 2139.3 236.9 C2143.7 238.6 2151.9 247.9 2157.6 250.6 C2163.3 253.3 2181.1 257.1 2188.2 259.8 C2195.3 262.5 2213.0 270.5 2218.7 273.5 C2224.4 276.5 2232.7 282.1 2237.0 285.7 C2241.3 289.3 2251.0 300.6 2255.3 304.0 C2259.6 307.4 2269.8 311.1 2273.7 314.7 C2277.6 318.3 2283.2 329.1 2288.9 334.6 C2294.6 340.1 2316.1 356.0 2322.5 362.1 C2328.9 368.2 2339.3 383.7 2343.9 386.5 C2348.5 389.3 2358.3 385.4 2362.2 386.5 C2366.1 387.6 2373.6 394.2 2377.5 395.6 C2381.4 397.0 2391.9 397.3 2395.8 398.7 C2399.7 400.1 2406.8 406.5 2411.1 407.9 C2415.4 409.3 2427.3 409.5 2432.4 410.9 C2437.5 412.3 2451.3 419.2 2455.0 420.1 C2458.7 421.0 2460.6 417.6 2464.2 418.5 C2467.8 419.4 2480.9 426.1 2485.5 427.7 C2490.1 429.3 2500.3 432.1 2503.9 432.3 C2507.5 432.5 2511.1 430.1 2516.1 429.2 C2521.1 428.3 2542.0 424.7 2546.6 424.7 C2551.2 424.7 2552.2 429.4 2555.8 429.2 C2559.4 429.0 2573.5 424.7 2577.1 423.1 C2580.7 421.5 2582.7 417.6 2586.3 415.5 C2589.9 413.4 2603.1 408.2 2607.7 404.8 C2612.3 401.4 2621.7 390.1 2626.0 386.5 C2630.3 382.9 2639.3 377.7 2644.3 374.3 C2649.3 370.9 2662.3 360.9 2668.7 357.5 C2675.1 354.1 2691.1 348.1 2699.3 345.3 C2707.5 342.5 2733.3 334.3 2739.0 333.1 C2744.7 331.9 2743.8 335.3 2748.1 334.6 C2752.4 333.9 2768.8 328.2 2775.6 327.0 C2782.4 325.8 2799.7 323.4 2806.1 323.9 C2812.5 324.4 2825.2 329.0 2830.6 331.5 C2836.0 334.0 2847.4 341.0 2852.0 345.3 C2856.6 349.6 2866.0 362.0 2870.3 368.2 C2874.6 374.4 2885.0 394.3 2888.6 398.7 C2892.2 403.1 2897.6 406.7 2900.8 406.3 C2904.0 405.9 2913.6 396.7 2916.1 395.6 C2918.6 394.5 2919.2 395.1 2922.2 397.2 C2925.2 399.3 2937.4 413.8 2942.0 414.0 C2946.6 414.2 2959.6 400.5 2961.9 398.7" stroke="#d8294a" stroke-width="3.8" fill="none" stroke-linejoin="round"/>
<path clip-path="url(#cr0)" d="M1966.8 365.1 C1968.0 355.5 1975.2 294.1 1977.5 282.7 C1979.8 271.3 1984.1 269.7 1986.6 267.4 C1989.1 265.1 1993.9 262.3 1998.9 262.8 C2003.9 263.3 2023.7 271.2 2029.4 272.0 C2035.1 272.8 2042.0 270.5 2047.7 269.8 C2053.4 269.1 2072.1 266.4 2078.2 265.9 C2084.3 265.4 2094.8 264.3 2099.6 265.9 C2104.4 267.5 2114.9 277.6 2119.5 279.6 C2124.1 281.6 2134.9 280.9 2139.3 282.7 C2143.7 284.5 2149.0 291.3 2157.6 294.9 C2166.2 298.5 2203.0 309.8 2212.6 313.2 C2222.2 316.6 2235.1 320.7 2240.1 323.9 C2245.1 327.1 2251.4 337.3 2255.3 340.7 C2259.2 344.1 2268.0 347.9 2273.7 352.9 C2279.4 357.9 2298.5 378.2 2304.2 383.4 C2309.9 388.6 2317.9 393.1 2322.5 397.2 C2327.1 401.3 2338.2 414.1 2343.9 418.5 C2349.6 422.9 2366.8 433.7 2371.4 435.3 C2376.0 436.9 2380.8 431.2 2383.6 432.3 C2386.4 433.4 2390.1 442.0 2395.8 444.5 C2401.5 447.0 2426.7 453.2 2432.4 453.7 C2438.1 454.2 2442.0 449.1 2444.6 449.1 C2447.2 449.1 2452.7 452.3 2455.0 453.7 C2457.3 455.1 2458.9 459.5 2464.2 461.3 C2469.5 463.1 2494.7 467.5 2500.8 468.9 C2506.9 470.3 2513.1 471.9 2516.1 473.5 C2519.1 475.1 2522.5 483.1 2526.8 482.7 C2531.1 482.3 2547.5 472.8 2552.7 470.5 C2557.9 468.2 2566.0 464.8 2571.0 462.8 C2576.0 460.8 2591.2 456.9 2595.5 453.7 C2599.8 450.5 2602.0 441.4 2607.7 435.3 C2613.4 429.2 2637.2 406.8 2644.3 401.8 C2651.4 396.8 2661.6 395.1 2668.7 392.6 C2675.8 390.1 2697.6 382.7 2705.4 380.4 C2713.2 378.1 2727.7 374.1 2735.9 372.7 C2744.1 371.3 2768.1 368.8 2775.6 368.2 C2783.1 367.6 2793.9 366.5 2800.0 367.6 C2806.1 368.7 2821.4 374.0 2827.5 377.3 C2833.6 380.6 2847.0 391.1 2852.0 395.6 C2857.0 400.1 2865.7 409.6 2870.3 415.5 C2874.9 421.4 2887.9 442.3 2891.6 446.0 C2895.3 449.7 2899.8 448.3 2902.3 447.6 C2904.8 446.9 2910.7 440.6 2913.0 439.9 C2915.3 439.2 2918.6 439.4 2922.2 441.5 C2925.8 443.6 2939.6 456.6 2943.5 458.2 C2947.4 459.8 2953.7 456.4 2955.8 455.2 C2957.9 454.0 2961.2 448.5 2961.9 447.6" stroke="#1c1c1c" stroke-width="3.8" fill="none" stroke-linejoin="round"/>
<path clip-path="url(#cr1)" d="M1956.0 817.5 C1957.6 817.0 1966.6 814.0 1969.8 813.5 C1973.0 813.0 1980.5 812.4 1983.7 812.9 C1986.9 813.4 1995.0 816.0 1997.5 817.5 C2000.0 819.0 2003.1 822.7 2005.4 825.4 C2007.7 828.1 2015.0 844.6 2017.3 840.3 C2019.6 836.0 2023.3 799.4 2025.2 788.8 C2027.1 778.2 2031.8 756.8 2033.2 749.2 C2034.6 741.6 2035.4 729.6 2037.1 723.5 C2038.8 717.4 2045.5 699.1 2048.0 696.7 C2050.5 694.3 2056.5 699.1 2058.9 702.7 C2061.3 706.3 2066.3 722.9 2068.8 727.4 C2071.3 731.9 2078.4 738.2 2080.7 741.3 C2083.0 744.4 2086.3 751.6 2088.6 754.1 C2090.9 756.6 2098.0 759.8 2100.5 763.0 C2103.0 766.2 2108.1 778.7 2110.4 781.9 C2112.7 785.1 2118.0 788.5 2120.3 790.8 C2122.6 793.1 2126.5 799.2 2130.2 801.7 C2133.9 804.2 2146.8 810.4 2151.9 812.5 C2157.0 814.6 2168.4 818.1 2173.7 819.5 C2179.0 820.9 2191.3 823.2 2197.5 824.4 C2203.7 825.6 2219.1 828.4 2227.2 829.4 C2235.3 830.4 2255.2 832.6 2266.8 833.3 C2278.4 834.0 2313.5 835.0 2326.2 835.3 C2338.9 835.6 2364.1 836.4 2375.7 835.9 C2387.2 835.4 2415.9 831.9 2425.2 831.4 C2434.5 830.9 2446.2 832.1 2455.0 831.4 C2463.8 830.7 2488.9 827.3 2500.5 825.4 C2512.1 823.5 2542.0 817.2 2554.0 815.5 C2566.0 813.8 2593.8 811.9 2603.5 810.6 C2613.2 809.3 2629.7 805.6 2637.1 804.6 C2644.5 803.6 2658.0 802.5 2666.8 801.7 C2675.6 800.9 2704.3 799.0 2712.4 797.7 C2720.5 796.4 2730.8 793.2 2736.1 790.8 C2741.4 788.4 2753.0 781.2 2757.9 776.9 C2762.8 772.6 2774.2 759.6 2777.7 754.1 C2781.2 748.6 2784.1 733.7 2787.6 729.4 C2791.1 725.1 2803.7 720.4 2807.4 717.5 C2811.1 714.6 2815.6 707.9 2819.3 704.6 C2823.0 701.3 2835.4 689.5 2839.1 688.8 C2842.8 688.1 2848.7 693.5 2851.0 698.7 C2853.3 703.9 2856.6 727.5 2858.9 733.4 C2861.2 739.3 2868.3 743.3 2870.8 749.2 C2873.3 755.1 2877.2 777.2 2880.7 783.8 C2884.2 790.4 2895.9 802.5 2900.5 805.6 C2905.1 808.7 2913.1 809.8 2920.3 810.6 C2927.5 811.4 2957.1 812.3 2962.0 812.5" stroke="#1a1a1a" stroke-width="3.8" fill="none" stroke-linejoin="round"/>
<path clip-path="url(#cr2)" d="M1956.0 1033.2 C1957.6 1033.7 1966.3 1036.4 1969.8 1037.2 C1973.3 1038.0 1982.4 1039.2 1985.6 1040.2 C1988.8 1041.2 1995.0 1045.5 1997.5 1046.1 C2000.0 1046.7 2005.1 1046.7 2007.4 1045.1 C2009.7 1043.5 2014.8 1034.4 2017.3 1032.2 C2019.8 1030.0 2026.7 1027.9 2029.2 1026.3 C2031.7 1024.7 2036.8 1023.5 2039.1 1018.4 C2041.4 1013.3 2046.7 989.4 2049.0 982.7 C2051.3 976.0 2056.6 967.0 2058.9 961.0 C2061.2 955.0 2066.3 936.2 2068.8 931.3 C2071.3 926.4 2078.4 922.6 2080.7 919.4 C2083.0 916.2 2086.3 906.4 2088.6 903.6 C2090.9 900.8 2098.0 898.0 2100.5 895.6 C2103.0 893.2 2106.7 885.3 2110.4 882.8 C2114.1 880.3 2127.7 875.1 2132.1 873.9 C2136.5 872.7 2144.3 872.2 2148.0 872.3 C2151.7 872.4 2160.6 873.9 2163.8 874.8 C2167.0 875.7 2172.0 878.5 2175.7 879.8 C2179.4 881.1 2192.3 884.3 2195.5 885.7 C2198.7 887.1 2201.1 890.3 2203.4 891.7 C2205.7 893.1 2213.0 896.3 2215.3 897.6 C2217.6 898.9 2220.7 901.2 2223.2 902.6 C2225.7 904.0 2234.3 908.0 2237.1 909.5 C2239.9 911.0 2243.5 913.3 2247.0 915.4 C2250.5 917.5 2262.2 924.4 2266.8 927.3 C2271.4 930.2 2282.0 937.3 2286.6 940.2 C2291.2 943.1 2301.8 949.3 2306.4 952.1 C2311.0 954.9 2321.6 961.6 2326.2 963.9 C2330.8 966.2 2342.5 970.3 2346.0 971.9 C2349.5 973.5 2352.4 976.0 2355.9 977.8 C2359.4 979.6 2371.1 985.5 2375.7 987.7 C2380.3 989.9 2389.7 994.2 2395.5 996.6 C2401.3 999.0 2418.3 1006.3 2425.2 1008.5 C2432.1 1010.7 2448.7 1013.7 2455.0 1015.4 C2461.3 1017.1 2471.9 1021.6 2478.8 1023.3 C2485.7 1025.0 2503.3 1028.7 2514.4 1030.3 C2525.5 1031.9 2562.2 1035.9 2573.8 1037.2 C2585.4 1038.5 2603.0 1040.5 2613.4 1041.2 C2623.8 1041.9 2649.0 1042.6 2662.9 1043.1 C2676.8 1043.6 2718.8 1045.3 2732.2 1045.1 C2745.6 1044.9 2771.2 1042.6 2777.7 1041.2 C2784.2 1039.8 2784.1 1035.4 2787.6 1033.2 C2791.1 1031.0 2802.8 1025.6 2807.4 1022.3 C2812.0 1019.0 2823.5 1009.6 2827.2 1004.5 C2830.9 999.4 2836.3 984.3 2839.1 978.8 C2841.9 973.3 2848.7 962.5 2851.0 957.0 C2853.3 951.5 2856.6 935.9 2858.9 931.3 C2861.2 926.7 2868.3 920.4 2870.8 917.4 C2873.3 914.4 2877.2 907.6 2880.7 905.5 C2884.2 903.4 2894.7 900.1 2900.5 899.6 C2906.3 899.1 2923.0 901.1 2930.2 901.6 C2937.4 902.1 2958.3 903.4 2962.0 903.6" stroke="#1a1a1a" stroke-width="3.8" fill="none" stroke-linejoin="round"/>
<path clip-path="url(#cr3)" d="M1956.0 1212.4 C1957.6 1211.7 1966.1 1208.8 1969.8 1206.5 C1973.5 1204.2 1984.4 1201.4 1987.6 1192.6 C1990.8 1183.8 1995.2 1143.1 1997.5 1131.3 C1999.8 1119.5 2005.0 1098.4 2007.4 1091.7 C2009.8 1085.0 2015.8 1075.5 2018.3 1073.9 C2020.8 1072.3 2026.8 1076.2 2029.2 1077.8 C2031.6 1079.4 2036.8 1081.0 2039.1 1087.7 C2041.4 1094.4 2046.7 1126.9 2049.0 1135.2 C2051.3 1143.5 2056.6 1152.1 2058.9 1159.0 C2061.2 1165.9 2066.3 1189.1 2068.8 1194.6 C2071.3 1200.1 2078.4 1203.8 2080.7 1206.5 C2083.0 1209.2 2086.1 1215.2 2088.6 1217.4 C2091.1 1219.6 2099.9 1223.3 2102.4 1225.3 C2104.9 1227.3 2106.9 1232.0 2110.4 1234.2 C2113.9 1236.4 2126.6 1242.2 2132.1 1244.1 C2137.6 1246.0 2149.1 1249.1 2157.9 1250.1 C2166.7 1251.1 2194.7 1252.7 2207.4 1253.0 C2220.1 1253.3 2252.9 1253.6 2266.8 1253.0 C2280.7 1252.4 2312.3 1249.4 2326.2 1248.1 C2340.1 1246.8 2374.0 1243.5 2385.6 1242.1 C2397.2 1240.7 2417.1 1237.2 2425.2 1236.2 C2433.3 1235.2 2446.9 1234.6 2455.0 1233.2 C2463.1 1231.8 2485.4 1226.6 2494.6 1224.3 C2503.8 1222.0 2525.0 1215.6 2534.2 1213.4 C2543.4 1211.2 2565.7 1206.9 2573.8 1205.5 C2581.9 1204.1 2596.6 1202.9 2603.5 1201.6 C2610.4 1200.3 2625.6 1195.9 2633.2 1194.6 C2640.8 1193.3 2661.9 1191.4 2668.8 1190.7 C2675.7 1190.0 2687.5 1189.5 2692.6 1188.7 C2697.7 1187.9 2707.3 1185.5 2712.4 1183.7 C2717.5 1181.9 2730.8 1176.2 2736.1 1172.9 C2741.4 1169.6 2753.0 1160.1 2757.9 1155.0 C2762.8 1149.9 2774.2 1135.2 2777.7 1129.3 C2781.2 1123.4 2784.1 1107.2 2787.6 1104.5 C2791.1 1101.8 2802.8 1105.3 2807.4 1106.5 C2812.0 1107.7 2822.3 1108.7 2827.2 1114.4 C2832.1 1120.1 2845.3 1145.4 2849.0 1155.0 C2852.7 1164.6 2856.4 1189.9 2858.9 1196.6 C2861.4 1203.3 2868.3 1208.5 2870.8 1212.4 C2873.3 1216.3 2877.0 1226.9 2880.7 1230.3 C2884.4 1233.7 2896.6 1239.6 2902.4 1241.2 C2908.2 1242.8 2923.2 1243.6 2930.2 1244.1 C2937.2 1244.6 2958.3 1245.0 2962.0 1245.1" stroke="#1a1a1a" stroke-width="3.8" fill="none" stroke-linejoin="round"/>
<path clip-path="url(#cr4)" d="M1956.0 1435.3 C1957.6 1435.3 1966.1 1435.8 1969.8 1435.3 C1973.5 1434.8 1984.4 1433.4 1987.6 1431.3 C1990.8 1429.2 1995.2 1420.2 1997.5 1417.4 C1999.8 1414.6 2005.1 1411.2 2007.4 1407.5 C2009.7 1403.8 2013.8 1389.8 2017.3 1385.8 C2020.8 1381.8 2033.4 1377.5 2037.1 1372.9 C2040.8 1368.3 2045.3 1352.8 2049.0 1346.2 C2052.7 1339.6 2064.2 1320.8 2068.8 1316.5 C2073.4 1312.2 2084.9 1310.4 2088.6 1309.5 C2092.3 1308.6 2096.8 1308.1 2100.5 1308.6 C2104.2 1309.1 2116.6 1312.2 2120.3 1313.5 C2124.0 1314.8 2128.4 1317.8 2132.1 1319.4 C2135.8 1321.0 2147.3 1325.5 2151.9 1327.4 C2156.5 1329.3 2167.1 1333.8 2171.7 1335.3 C2176.3 1336.8 2187.3 1338.7 2191.5 1340.2 C2195.7 1341.7 2203.2 1346.3 2207.4 1348.2 C2211.6 1350.1 2222.6 1354.1 2227.2 1356.1 C2231.8 1358.1 2242.4 1363.0 2247.0 1365.0 C2251.6 1367.0 2262.2 1371.1 2266.8 1372.9 C2271.4 1374.7 2282.0 1379.0 2286.6 1380.8 C2291.2 1382.6 2301.8 1386.8 2306.4 1388.7 C2311.0 1390.6 2321.6 1395.2 2326.2 1396.7 C2330.8 1398.2 2341.4 1400.0 2346.0 1401.6 C2350.6 1403.2 2361.2 1408.8 2365.8 1410.5 C2370.4 1412.2 2381.0 1415.2 2385.6 1416.5 C2390.2 1417.8 2400.8 1420.2 2405.4 1421.4 C2410.0 1422.6 2419.4 1425.5 2425.2 1426.4 C2431.0 1427.3 2448.1 1428.3 2455.0 1429.3 C2461.9 1430.3 2477.8 1434.5 2484.7 1435.3 C2491.6 1436.1 2504.0 1436.3 2514.4 1436.3 C2524.8 1436.3 2563.4 1435.1 2573.8 1434.9 C2584.2 1434.7 2595.4 1434.7 2603.5 1434.9 C2611.6 1435.1 2635.5 1436.5 2643.1 1436.3 C2650.7 1436.1 2663.0 1433.9 2668.8 1433.3 C2674.6 1432.7 2684.7 1431.9 2692.6 1431.3 C2700.5 1430.7 2728.5 1429.2 2736.1 1428.3 C2743.7 1427.4 2753.0 1424.7 2757.9 1423.4 C2762.8 1422.1 2774.2 1419.5 2777.7 1417.4 C2781.2 1415.3 2784.1 1408.8 2787.6 1405.6 C2791.1 1402.4 2803.7 1394.1 2807.4 1389.7 C2811.1 1385.3 2817.0 1371.5 2819.3 1368.0 C2821.6 1364.5 2824.9 1363.5 2827.2 1360.0 C2829.5 1356.5 2836.3 1342.5 2839.1 1338.3 C2841.9 1334.1 2848.7 1327.5 2851.0 1324.4 C2853.3 1321.3 2856.6 1313.0 2858.9 1311.5 C2861.2 1310.0 2868.3 1310.2 2870.8 1311.5 C2873.3 1312.8 2877.2 1319.7 2880.7 1322.4 C2884.2 1325.1 2895.4 1332.3 2900.5 1334.3 C2905.6 1336.3 2918.9 1338.2 2924.2 1339.2 C2929.5 1340.2 2941.6 1342.6 2946.0 1343.2 C2950.4 1343.8 2960.1 1344.1 2962.0 1344.2" stroke="#1a1a1a" stroke-width="3.8" fill="none" stroke-linejoin="round"/>
<rect x="1325" y="136" width="162" height="1322" fill="#c7c5c6" fill-opacity="0.22"/>
<rect x="2668" y="134" width="236" height="1324" fill="#c7c5c6" fill-opacity="0.22"/>
<rect x="1325" y="136" width="162" height="517" fill="#c7c5c6" fill-opacity="0.3"/>
<rect x="1379.0" y="136" width="4" height="1322" fill="#0d0d0d"/>
<rect x="2827.0" y="134" width="4" height="1324" fill="#0d0d0d"/>
<path d="M2030 512.5H2095" stroke="#3a5ca8" stroke-width="4.5"/>
<path d="M2030 566.9H2095" stroke="#d8294a" stroke-width="4.5"/>
<path d="M2030 622.3H2095" stroke="#1c1c1c" stroke-width="4.5"/>
<g font-family='"Liberation Serif", serif' fill="#231f20">
<text x="1610.0" y="46.0" font-size="58.5" text-anchor="start"  >(a)</text>
<text x="2872.0" y="106.0" font-size="59.0" text-anchor="start"  >(b)</text>
<text x="862.0" y="117.0" font-size="56.5" text-anchor="start"  >STEREO-A data</text>
<text x="1383.0" y="117.0" font-size="55.5" text-anchor="start"  >Energy / MeV</text>
<text x="2325.0" y="117.0" font-size="55.8" text-anchor="start"  >Simulations</text>
<text x="1529" y="164.0" font-size="55" fill="#2b4b9c">10~12</text>
<text x="1529" y="207.2" font-size="55" fill="#6a95c8">14~15</text>
<text x="1529" y="250.3" font-size="55" fill="#58b5e0">15~17</text>
<text x="1529" y="293.4" font-size="55" fill="#e8b22e">17~19</text>
<text x="1529" y="336.6" font-size="55" fill="#e38c3e">21~24</text>
<text x="1529" y="379.8" font-size="55" fill="#e05a34">24~26</text>
<text x="1529" y="422.9" font-size="55" fill="#d84858">26~30</text>
<text x="1529" y="466.1" font-size="55" fill="#d42a45">30~33</text>
<text x="1529" y="509.2" font-size="55" fill="#86c43a">33~36</text>
<text x="1529" y="552.3" font-size="55" fill="#6cb74e">36~40</text>
<text x="1529" y="595.5" font-size="55" fill="#77c25e">40~60</text>
<text x="1529" y="638.6" font-size="55" fill="#80ccb2">60~100</text>
<text x="2109.0" y="528.7" font-size="55.7" text-anchor="start"  >20 MeV</text>
<text x="2109.0" y="583.9" font-size="55.7" text-anchor="start"  >30 MeV</text>
<text x="2109.0" y="639.7" font-size="55.7" text-anchor="start"  >50 MeV</text>
<text x="499.0" y="162.7" font-size="56" text-anchor="end">10<tspan font-size="38" dy="-21.5">2</tspan></text>
<text x="499.0" y="286.7" font-size="56" text-anchor="end">10<tspan font-size="38" dy="-21.5">0</tspan></text>
<text x="499.0" y="415.0" font-size="56" text-anchor="end">10<tspan font-size="28" dx="-1" dy="-28">−</tspan><tspan font-size="38" dx="1" dy="5">2</tspan></text>
<text x="499.0" y="537.0" font-size="56" text-anchor="end">10<tspan font-size="28" dx="-1" dy="-28">−</tspan><tspan font-size="38" dx="1" dy="5">4</tspan></text>
<text x="499.0" y="661.0" font-size="56" text-anchor="end">10<tspan font-size="28" dx="-1" dy="-28">−</tspan><tspan font-size="38" dx="1" dy="5">6</tspan></text>
<text x="501.0" y="709.0" font-size="56.0" text-anchor="end"  >25</text>
<text x="501.0" y="770.0" font-size="56.0" text-anchor="end"  >15</text>
<text x="501.0" y="832.0" font-size="56.0" text-anchor="end"  >5</text>
<text x="501.0" y="917.0" font-size="56.0" text-anchor="end"  >700</text>
<text x="501.0" y="986.0" font-size="56.0" text-anchor="end"  >500</text>
<text x="501.0" y="1056.7" font-size="56.0" text-anchor="end"  >300</text>
<text x="501.0" y="1113.0" font-size="56.0" text-anchor="end"  >50</text>
<text x="501.0" y="1171.6" font-size="56.0" text-anchor="end"  >30</text>
<text x="501.0" y="1240.0" font-size="56.0" text-anchor="end"  >10</text>
<text x="501.0" y="1343.7" font-size="56" text-anchor="end">10<tspan font-size="38" dy="-21.5">6</tspan></text>
<text x="501.0" y="1400.0" font-size="56" text-anchor="end">10<tspan font-size="38" dy="-21.5">5</tspan></text>
<text x="501.0" y="1457.0" font-size="56" text-anchor="end">10<tspan font-size="38" dy="-21.5">4</tspan></text>
<text x="1946.0" y="162.7" font-size="56" text-anchor="end">10<tspan font-size="38" dy="-21.5">3</tspan></text>
<text x="1946.0" y="235.4" font-size="56" text-anchor="end">10<tspan font-size="38" dy="-21.5">2</tspan></text>
<text x="1946.0" y="308.0" font-size="56" text-anchor="end">10<tspan font-size="38" dy="-21.5">1</tspan></text>
<text x="1946.0" y="378.5" font-size="56" text-anchor="end">10<tspan font-size="38" dy="-21.5">0</tspan></text>
<text x="1946.0" y="453.0" font-size="56" text-anchor="end">10<tspan font-size="28" dx="-1" dy="-28">−</tspan><tspan font-size="38" dx="1" dy="5">1</tspan></text>
<text x="1946.0" y="524.0" font-size="56" text-anchor="end">10<tspan font-size="28" dx="-1" dy="-28">−</tspan><tspan font-size="38" dx="1" dy="5">2</tspan></text>
<text x="1946.0" y="596.5" font-size="56" text-anchor="end">10<tspan font-size="28" dx="-1" dy="-28">−</tspan><tspan font-size="38" dx="1" dy="5">3</tspan></text>
<text x="1946.0" y="667.0" font-size="56" text-anchor="end">10<tspan font-size="28" dx="-1" dy="-28">−</tspan><tspan font-size="38" dx="1" dy="5">4</tspan></text>
<text x="1945.0" y="717.7" font-size="56.0" text-anchor="end"  >14</text>
<text x="1945.0" y="766.0" font-size="56.0" text-anchor="end"  >10</text>
<text x="1945.0" y="815.5" font-size="56.0" text-anchor="end"  >6</text>
<text x="1945.0" y="863.0" font-size="56.0" text-anchor="end"  >2</text>
<text x="1945.0" y="918.0" font-size="56.0" text-anchor="end"  >550</text>
<text x="1945.0" y="982.0" font-size="56.0" text-anchor="end"  >450</text>
<text x="1945.0" y="1045.5" font-size="56.0" text-anchor="end"  >350</text>
<text x="1945.0" y="1099.3" font-size="56.0" text-anchor="end"  >40</text>
<text x="1945.0" y="1147.4" font-size="56.0" text-anchor="end"  >30</text>
<text x="1945.0" y="1196.5" font-size="56.0" text-anchor="end"  >20</text>
<text x="1945.0" y="1243.6" font-size="56.0" text-anchor="end"  >10</text>
<text x="1947.0" y="1389.5" font-size="56" text-anchor="end">10<tspan font-size="38" dy="-21.5">5</tspan></text>
<text x="253.0" y="768.0" font-size="56"><tspan font-style="italic">B</tspan> / nT</text>
<text x="126.0" y="906.0" font-size="56"><tspan font-style="italic">V</tspan><tspan font-style="italic" font-size="40" dy="5" dx="-3">r</tspan><tspan dy="-5" dx="-3"> / (km·s</tspan><tspan font-size="30" dy="-23" dx="2">−</tspan><tspan font-size="38" dy="4">1</tspan><tspan dy="19">)</tspan></text>
<text x="179.0" y="1110.7" font-size="56"><tspan font-style="italic">N</tspan> / cm<tspan font-size="30" dy="-23" dx="2">−</tspan><tspan font-size="38" dy="4">3</tspan></text>
<text x="252.0" y="1334.0" font-size="56"><tspan font-style="italic">T</tspan> / K</text>
<text x="1706.0" y="771.4" font-size="56"><tspan font-style="italic">B</tspan> / nT</text>
<text x="1564.0" y="907.6" font-size="56"><tspan font-style="italic">V</tspan><tspan font-style="italic" font-size="40" dy="5" dx="-3">r</tspan><tspan dy="-5" dx="-3"> / (km·s</tspan><tspan font-size="30" dy="-23" dx="2">−</tspan><tspan font-size="38" dy="4">1</tspan><tspan dy="19">)</tspan></text>
<text x="1649.0" y="1103.5" font-size="56"><tspan font-style="italic">N</tspan> / cm<tspan font-size="30" dy="-23" dx="2">−</tspan><tspan font-size="38" dy="4">3</tspan></text>
<text x="1713.0" y="1328.6" font-size="56"><tspan font-style="italic">T</tspan> / K</text>
<text transform="translate(302,464) rotate(-90)" font-size="56">Flux /</text>
<text transform="rotate(-90)"><tspan x="-631.5" y="364.5" font-size="56">(cm</tspan><tspan x="-544.5" y="343.5" font-size="30">−</tspan><tspan x="-528.0" y="343.5" font-size="38">2</tspan><tspan x="-508.0" y="364.5" font-size="56">·sr</tspan><tspan x="-449.0" y="343.5" font-size="30">−</tspan><tspan x="-431.0" y="343.5" font-size="38">1</tspan><tspan x="-414.0" y="364.5" font-size="56">·s</tspan><tspan x="-373.5" y="343.5" font-size="30">−</tspan><tspan x="-356.0" y="343.5" font-size="38">1</tspan><tspan x="-336.6" y="364.5" font-size="56">·MeV</tspan><tspan x="-205.0" y="343.5" font-size="30">−</tspan><tspan x="-187.5" y="343.5" font-size="38">1</tspan><tspan x="-167.0" y="364.5" font-size="56">)</tspan></text>
<text transform="translate(1822,631) rotate(-90)" font-size="55.5">Omnidirectional flux</text>
<text x="483.0" y="1505.0" font-size="56.0" text-anchor="start"  >21</text>
<text x="928.0" y="1505.0" font-size="56.0" text-anchor="start"  >26</text>
<text x="1388.0" y="1505.0" font-size="56.0" text-anchor="start"  >31</text>
<text x="482.0" y="1560.0" font-size="56.5" text-anchor="start"  >Mar. 2011</text>
<text x="951.0" y="1584.0" font-size="56.0" text-anchor="start"  >Date</text>
<text x="1937.0" y="1505.0" font-size="56.0" text-anchor="start"  >21</text>
<text x="2381.0" y="1505.0" font-size="56.0" text-anchor="start"  >26</text>
<text x="2841.0" y="1505.0" font-size="56.0" text-anchor="start"  >31</text>
<text x="1935.0" y="1557.0" font-size="56.5" text-anchor="start"  >Mar. 2011</text>
<text x="2399.0" y="1582.0" font-size="56.0" text-anchor="start"  >Date</text>
</g>
</svg></body></html>
